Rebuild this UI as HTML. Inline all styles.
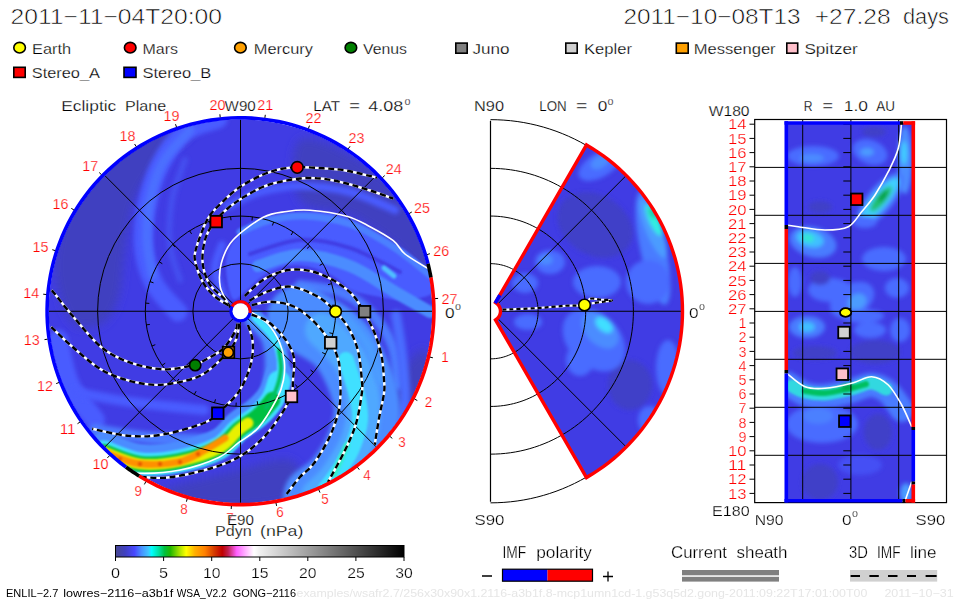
<!DOCTYPE html><html><head><meta charset="utf-8"><style>html,body{margin:0;padding:0;background:#fff;width:960px;height:600px;overflow:hidden}svg{display:block}</style></head><body>
<svg width="960" height="600" viewBox="0 0 960 600" font-family='"Liberation Sans", sans-serif'>
<defs>
<clipPath id="cE"><circle cx="240.5" cy="311.25" r="191.8"/></clipPath>
<clipPath id="cW"><path d="M586.50,144.97 L592.24,148.42 L597.87,152.07 L603.35,155.92 L608.71,159.95 L613.92,164.17 L618.97,168.57 L623.87,173.14 L628.61,177.88 L633.18,182.78 L637.58,187.83 L641.80,193.04 L645.83,198.40 L649.68,203.88 L653.33,209.51 L656.78,215.25 L660.03,221.11 L663.07,227.08 L665.90,233.16 L668.52,239.33 L670.92,245.58 L673.10,251.92 L675.06,258.33 L676.80,264.80 L678.30,271.33 L679.58,277.91 L680.63,284.53 L681.45,291.18 L682.03,297.86 L682.38,304.55 L682.50,311.25 L682.38,317.95 L682.03,324.64 L681.45,331.32 L680.63,337.97 L679.58,344.59 L678.30,351.17 L676.80,357.70 L675.06,364.17 L673.10,370.58 L670.92,376.92 L668.52,383.17 L665.90,389.34 L663.07,395.42 L660.03,401.39 L656.78,407.25 L653.33,412.99 L649.68,418.62 L645.83,424.10 L641.80,429.46 L637.58,434.67 L633.18,439.72 L628.61,444.62 L623.87,449.36 L618.97,453.93 L613.92,458.33 L608.71,462.55 L603.35,466.58 L597.87,470.43 L592.24,474.08 L586.50,477.53 L495.50,319.91 L497.19,318.68 L498.59,317.13 L499.64,315.32 L500.28,313.33 L500.50,311.25 L500.28,309.17 L499.64,307.18 L498.59,305.37 L497.19,303.82 L495.50,302.59Z"/></clipPath>
<clipPath id="cR"><rect x="786" y="123" width="127.5" height="378"/></clipPath>
<filter id="b3" filterUnits="userSpaceOnUse" x="0" y="0" width="960" height="600"><feGaussianBlur stdDeviation="2.2"/></filter>
<filter id="b2" filterUnits="userSpaceOnUse" x="0" y="0" width="960" height="600"><feGaussianBlur stdDeviation="1.3"/></filter>
<filter id="b5" filterUnits="userSpaceOnUse" x="0" y="0" width="960" height="600"><feGaussianBlur stdDeviation="5"/></filter>
<linearGradient id="cbar" x1="0" x2="1" y1="0" y2="0"><stop offset="0" stop-color="#484890"/><stop offset="0.033" stop-color="#4040c0"/><stop offset="0.066" stop-color="#4848ff"/><stop offset="0.09" stop-color="#4890ff"/><stop offset="0.115" stop-color="#40c8ff"/><stop offset="0.125" stop-color="#00ffff"/><stop offset="0.15" stop-color="#00e0a0"/><stop offset="0.17" stop-color="#00c040"/><stop offset="0.19" stop-color="#20b800"/><stop offset="0.22" stop-color="#a0e000"/><stop offset="0.245" stop-color="#ffff00"/><stop offset="0.275" stop-color="#ffb000"/><stop offset="0.31" stop-color="#ff8000"/><stop offset="0.34" stop-color="#d84000"/><stop offset="0.37" stop-color="#c00000"/><stop offset="0.39" stop-color="#c02050"/><stop offset="0.42" stop-color="#ff60ff"/><stop offset="0.45" stop-color="#ffb0ff"/><stop offset="0.48" stop-color="#ffffff"/><stop offset="0.5" stop-color="#f0f0f0"/><stop offset="1.0" stop-color="#000000"/></linearGradient>
</defs>
<text x="10.5" y="24" font-size="21.5" fill="#000" text-anchor="start" textLength="211.5" lengthAdjust="spacingAndGlyphs" stroke="#fff" stroke-width="0.6">2011−11−04T20:00</text>
<text x="623.4" y="24" font-size="21.5" fill="#000" text-anchor="start" textLength="177.2" lengthAdjust="spacingAndGlyphs" stroke="#fff" stroke-width="0.6">2011−10−08T13</text>
<text x="814.7" y="24" font-size="21.5" fill="#000" text-anchor="start" textLength="75.9" lengthAdjust="spacingAndGlyphs" stroke="#fff" stroke-width="0.6">+27.28</text>
<text x="903" y="24" font-size="21.5" fill="#000" text-anchor="start" textLength="46" lengthAdjust="spacingAndGlyphs" stroke="#fff" stroke-width="0.6">days</text>
<ellipse cx="19.6" cy="47.7" rx="5.8" ry="5.3" fill="#ffff00" stroke="#000" stroke-width="1.6"/>
<text x="32" y="54" font-size="15" fill="#000" text-anchor="start" textLength="39" lengthAdjust="spacingAndGlyphs" stroke="#fff" stroke-width="0.25">Earth</text>
<ellipse cx="130.2" cy="47.7" rx="5.8" ry="5.3" fill="#ff0000" stroke="#000" stroke-width="1.6"/>
<text x="142.5" y="54" font-size="15" fill="#000" text-anchor="start" textLength="35.5" lengthAdjust="spacingAndGlyphs" stroke="#fff" stroke-width="0.25">Mars</text>
<ellipse cx="240.4" cy="47.7" rx="5.8" ry="5.3" fill="#ffa000" stroke="#000" stroke-width="1.6"/>
<text x="253.75" y="54" font-size="15" fill="#000" text-anchor="start" textLength="59.25" lengthAdjust="spacingAndGlyphs" stroke="#fff" stroke-width="0.25">Mercury</text>
<ellipse cx="350.9" cy="47.7" rx="5.8" ry="5.3" fill="#008000" stroke="#000" stroke-width="1.6"/>
<text x="363" y="54" font-size="15" fill="#000" text-anchor="start" textLength="44" lengthAdjust="spacingAndGlyphs" stroke="#fff" stroke-width="0.25">Venus</text>
<rect x="455.8" y="43.099999999999994" width="11.4" height="10.100000000000003" fill="#808080" stroke="#000" stroke-width="1.6"/>
<text x="472.5" y="54" font-size="15" fill="#000" text-anchor="start" textLength="37" lengthAdjust="spacingAndGlyphs" stroke="#fff" stroke-width="0.25">Juno</text>
<rect x="565.8" y="43.099999999999994" width="11.4" height="10.100000000000003" fill="#d0d0d0" stroke="#000" stroke-width="1.6"/>
<text x="584" y="54" font-size="15" fill="#000" text-anchor="start" textLength="48" lengthAdjust="spacingAndGlyphs" stroke="#fff" stroke-width="0.25">Kepler</text>
<rect x="676.3" y="43.099999999999994" width="11.9" height="10.100000000000003" fill="#ffa000" stroke="#000" stroke-width="1.6"/>
<text x="693.75" y="54" font-size="15" fill="#000" text-anchor="start" textLength="81.85" lengthAdjust="spacingAndGlyphs" stroke="#fff" stroke-width="0.25">Messenger</text>
<rect x="786.8" y="43.099999999999994" width="10.9" height="10.100000000000003" fill="#ffc0cb" stroke="#000" stroke-width="1.6"/>
<text x="804.4" y="54" font-size="15" fill="#000" text-anchor="start" textLength="53.4" lengthAdjust="spacingAndGlyphs" stroke="#fff" stroke-width="0.25">Spitzer</text>
<rect x="13.8" y="67.3" width="11.4" height="10.100000000000003" fill="#ff0000" stroke="#000" stroke-width="1.6"/>
<text x="31.75" y="78" font-size="15" fill="#000" text-anchor="start" textLength="68.25" lengthAdjust="spacingAndGlyphs" stroke="#fff" stroke-width="0.25">Stereo_A</text>
<rect x="124.0" y="67.3" width="12.000000000000009" height="10.100000000000003" fill="#0000ff" stroke="#000" stroke-width="1.6"/>
<text x="142.5" y="78" font-size="15" fill="#000" text-anchor="start" textLength="68.75" lengthAdjust="spacingAndGlyphs" stroke="#fff" stroke-width="0.25">Stereo_B</text>
<text x="61.25" y="110.5" font-size="15" fill="#000" text-anchor="start" textLength="55.0" lengthAdjust="spacingAndGlyphs" stroke="#fff" stroke-width="0.25">Ecliptic</text>
<text x="125" y="110.5" font-size="15" fill="#000" text-anchor="start" textLength="41.25" lengthAdjust="spacingAndGlyphs" stroke="#fff" stroke-width="0.25">Plane</text>
<text x="313.3" y="110.7" font-size="15" fill="#000" text-anchor="start" textLength="26.7" lengthAdjust="spacingAndGlyphs" stroke="#fff" stroke-width="0.25">LAT</text>
<text x="349.3" y="110.7" font-size="15" fill="#000" text-anchor="start" textLength="10.7" lengthAdjust="spacingAndGlyphs" stroke="#fff" stroke-width="0.25">=</text>
<text x="368.3" y="110.7" font-size="15" fill="#000" text-anchor="start" textLength="35.0" lengthAdjust="spacingAndGlyphs" stroke="#fff" stroke-width="0.25">4.08</text>
<text x="404.5" y="104.5" font-size="10" fill="#000" text-anchor="start" textLength="6" lengthAdjust="spacingAndGlyphs" stroke="#fff" stroke-width="0.25">o</text>
<text x="474" y="110.7" font-size="15" fill="#000" text-anchor="start" textLength="30" lengthAdjust="spacingAndGlyphs" stroke="#fff" stroke-width="0.25">N90</text>
<text x="539.3" y="110.7" font-size="15" fill="#000" text-anchor="start" textLength="27.4" lengthAdjust="spacingAndGlyphs" stroke="#fff" stroke-width="0.25">LON</text>
<text x="576" y="110.7" font-size="15" fill="#000" text-anchor="start" textLength="11.3" lengthAdjust="spacingAndGlyphs" stroke="#fff" stroke-width="0.25">=</text>
<text x="597.7" y="110.7" font-size="15" fill="#000" text-anchor="start" textLength="9.6" lengthAdjust="spacingAndGlyphs" stroke="#fff" stroke-width="0.25">0</text>
<text x="607.5" y="104.5" font-size="10" fill="#000" text-anchor="start" textLength="6" lengthAdjust="spacingAndGlyphs" stroke="#fff" stroke-width="0.25">o</text>
<text x="708.75" y="116.3" font-size="15" fill="#000" text-anchor="start" textLength="40.75" lengthAdjust="spacingAndGlyphs" stroke="#fff" stroke-width="0.25">W180</text>
<text x="803.75" y="110.5" font-size="15" fill="#000" text-anchor="start" textLength="8.75" lengthAdjust="spacingAndGlyphs" stroke="#fff" stroke-width="0.25">R</text>
<text x="822.5" y="110.5" font-size="15" fill="#000" text-anchor="start" textLength="10.5" lengthAdjust="spacingAndGlyphs" stroke="#fff" stroke-width="0.25">=</text>
<text x="843.75" y="110.5" font-size="15" fill="#000" text-anchor="start" textLength="24.25" lengthAdjust="spacingAndGlyphs" stroke="#fff" stroke-width="0.25">1.0</text>
<text x="876.25" y="110.5" font-size="15" fill="#000" text-anchor="start" textLength="18.75" lengthAdjust="spacingAndGlyphs" stroke="#fff" stroke-width="0.25">AU</text>
<g clip-path="url(#cE)">
<circle cx="240.5" cy="311.25" r="192" fill="#403ce4"/>
<g filter="url(#b5)" fill="#4040c0">
<path d="M55.0,260.0 C56.7,237.5 67.5,205.8 80.0,185.0 C92.5,164.2 110.0,146.8 130.0,135.0 C150.0,123.2 190.0,114.0 200.0,114.0 C210.0,114.0 196.7,127.3 190.0,135.0 C183.3,142.7 169.2,149.2 160.0,160.0 C150.8,170.8 140.8,185.0 135.0,200.0 C129.2,215.0 127.8,233.3 125.0,250.0 C122.2,266.7 122.2,287.5 118.0,300.0 C113.8,312.5 108.0,321.7 100.0,325.0 C92.0,328.3 77.5,330.8 70.0,320.0 C62.5,309.2 53.3,282.5 55.0,260.0Z"/>
<path d="M300.0,140.0 C310.0,133.3 342.5,150.0 360.0,160.0 C377.5,170.0 393.3,185.0 405.0,200.0 C416.7,215.0 426.7,237.5 430.0,250.0 C433.3,262.5 430.8,275.8 425.0,275.0 C419.2,274.2 407.5,255.0 395.0,245.0 C382.5,235.0 365.8,222.5 350.0,215.0 C334.2,207.5 308.3,212.5 300.0,200.0 C291.7,187.5 290.0,146.7 300.0,140.0Z"/>
<path d="M160.0,490.0 C170.0,485.3 208.3,477.0 230.0,472.0 C251.7,467.0 278.3,456.2 290.0,460.0 C301.7,463.8 308.3,487.2 300.0,495.0 C291.7,502.8 261.7,506.2 240.0,507.0 C218.3,507.8 183.3,502.8 170.0,500.0 C156.7,497.2 150.0,494.7 160.0,490.0Z"/>
<path d="M400.0,380.0 C405.0,363.3 419.7,346.7 425.0,350.0 C430.3,353.3 433.7,385.0 432.0,400.0 C430.3,415.0 421.2,431.7 415.0,440.0 C408.8,448.3 397.5,460.0 395.0,450.0 C392.5,440.0 395.0,396.7 400.0,380.0Z"/>
</g>
<path d="M218.0,119.0 C212.5,121.2 194.7,124.3 185.0,132.0 C175.3,139.7 166.5,152.0 160.0,165.0 C153.5,178.0 148.7,195.8 146.0,210.0 C143.3,224.2 142.5,237.5 144.0,250.0 C145.5,262.5 149.3,274.7 155.0,285.0 C160.7,295.3 174.2,307.5 178.0,312.0" stroke="#4a5cff" stroke-width="19" fill="none" stroke-linecap="round" filter="url(#b3)" opacity="1"/>
<path d="M190.0,130.0 C185.5,135.3 169.7,150.3 163.0,162.0 C156.3,173.7 152.7,187.0 150.0,200.0 C147.3,213.0 146.7,227.5 147.0,240.0 C147.3,252.5 151.2,269.2 152.0,275.0" stroke="#4c70ff" stroke-width="9" fill="none" stroke-linecap="round" filter="url(#b3)" opacity="1"/>
<path d="M185.0,160.0 C182.8,166.7 174.5,185.8 172.0,200.0 C169.5,214.2 168.7,231.7 170.0,245.0 C171.3,258.3 178.3,274.2 180.0,280.0" stroke="#4450f0" stroke-width="6" fill="none" stroke-linecap="round" filter="url(#b3)" opacity="1"/>
<path d="M225.0,300.0 C223.3,295.0 215.5,279.2 215.0,270.0 C214.5,260.8 220.8,249.2 222.0,245.0" stroke="#4a5cff" stroke-width="8" fill="none" stroke-linecap="round" filter="url(#b3)" opacity="1"/>
<path d="M228.0,206.0 C233.3,203.7 248.0,195.3 260.0,192.0 C272.0,188.7 285.0,186.0 300.0,186.0 C315.0,186.0 334.2,188.0 350.0,192.0 C365.8,196.0 387.5,207.0 395.0,210.0" stroke="#4a5cff" stroke-width="8" fill="none" stroke-linecap="round" filter="url(#b3)" opacity="1"/>
<path d="M58.0,340.0 C60.0,347.5 63.8,371.7 70.0,385.0 C76.2,398.3 90.8,414.2 95.0,420.0" stroke="#4a5cff" stroke-width="20" fill="none" stroke-linecap="round" filter="url(#b3)" opacity="1"/>
<path d="M75.0,392.0 C84.2,393.7 108.5,399.0 130.0,402.0 C151.5,405.0 191.7,408.7 204.0,410.0" stroke="#4a5cff" stroke-width="10" fill="none" stroke-linecap="round" filter="url(#b3)" opacity="1"/>
<path d="M95.0,430.0 C104.2,431.3 131.8,436.3 150.0,438.0 C168.2,439.7 195.0,439.7 204.0,440.0" stroke="#4c7cff" stroke-width="12" fill="none" stroke-linecap="round" filter="url(#b3)" opacity="1"/>
<path d="M226.0,262.0 C226.7,252.0 229.8,245.2 236.0,238.0 C242.2,230.8 250.7,223.3 263.0,219.0 C275.3,214.7 296.0,212.2 310.0,212.0 C324.0,211.8 333.2,212.8 347.0,218.0 C360.8,223.2 379.7,234.3 393.0,243.0 C406.3,251.7 420.2,261.8 427.0,270.0 C433.8,278.2 437.7,287.0 434.0,292.0 C430.3,297.0 414.8,299.3 405.0,300.0 C395.2,300.7 383.8,297.7 375.0,296.0 C366.2,294.3 359.0,293.3 352.0,290.0 C345.0,286.7 340.0,279.8 333.0,276.0 C326.0,272.2 317.7,268.7 310.0,267.0 C302.3,265.3 294.8,264.5 287.0,266.0 C279.2,267.5 270.0,271.7 263.0,276.0 C256.0,280.3 250.2,288.3 245.0,292.0 C239.8,295.7 235.2,303.0 232.0,298.0 C228.8,293.0 225.3,272.0 226.0,262.0Z" fill="#4a5cff" filter="url(#b2)"/>
<path d="M240.0,232.0 C245.0,230.0 259.2,222.7 270.0,220.0 C280.8,217.3 291.7,215.3 305.0,216.0 C318.3,216.7 335.0,218.7 350.0,224.0 C365.0,229.3 381.7,239.5 395.0,248.0 C408.3,256.5 424.2,270.5 430.0,275.0" stroke="#4c80ff" stroke-width="7" fill="none" stroke-linecap="round" filter="url(#b2)" opacity="1"/>
<path d="M258.0,266.0 C265.0,264.2 284.7,255.0 300.0,255.0 C315.3,255.0 334.2,259.8 350.0,266.0 C365.8,272.2 381.7,284.3 395.0,292.0 C408.3,299.7 424.2,308.7 430.0,312.0" stroke="#4c8cff" stroke-width="12" fill="none" stroke-linecap="round" filter="url(#b2)" opacity="1"/>
<path d="M250.0,254.0 C258.3,251.7 283.3,241.0 300.0,240.0 C316.7,239.0 333.3,242.7 350.0,248.0 C366.7,253.3 391.7,268.0 400.0,272.0" stroke="#403ce4" stroke-width="4" fill="none" stroke-linecap="round" filter="url(#b2)" opacity="1"/>
<path d="M384.0,268.0 L394.0,276.0" stroke="#50c0ff" stroke-width="5" fill="none" stroke-linecap="round" filter="url(#b2)" opacity="1"/>
<path d="M300.0,285.0 C306.7,286.2 328.3,287.5 340.0,292.0 C351.7,296.5 361.3,303.2 370.0,312.0 C378.7,320.8 387.3,332.8 392.0,345.0 C396.7,357.2 397.0,378.3 398.0,385.0" stroke="#4c7cff" stroke-width="10" fill="none" stroke-linecap="round" filter="url(#b3)" opacity="1"/>
<path d="M396.0,315.0 C397.0,321.7 400.5,340.8 402.0,355.0 C403.5,369.2 405.7,387.5 405.0,400.0 C404.3,412.5 399.2,425.0 398.0,430.0" stroke="#4a6cff" stroke-width="10" fill="none" stroke-linecap="round" filter="url(#b3)" opacity="1"/>
<path d="M300.0,318.0 C307.0,322.7 331.0,332.3 342.0,346.0 C353.0,359.7 363.0,384.0 366.0,400.0 C369.0,416.0 364.7,428.7 360.0,442.0 C355.3,455.3 345.3,470.7 338.0,480.0 C330.7,489.3 319.7,495.0 316.0,498.0" stroke="#4c8cff" stroke-width="66" fill="none" stroke-linecap="round" filter="url(#b3)" opacity="1"/>
<path d="M322.0,330.0 C326.7,335.0 343.2,348.3 350.0,360.0 C356.8,371.7 361.7,386.7 363.0,400.0 C364.3,413.3 362.5,427.0 358.0,440.0 C353.5,453.0 342.7,468.7 336.0,478.0 C329.3,487.3 321.0,493.0 318.0,496.0" stroke="#50a8ff" stroke-width="34" fill="none" stroke-linecap="round" filter="url(#b3)" opacity="1"/>
<path d="M346.0,360.0 C347.8,365.8 354.7,385.0 357.0,395.0 C359.3,405.0 360.8,411.2 360.0,420.0 C359.2,428.8 355.7,439.3 352.0,448.0 C348.3,456.7 342.5,465.0 338.0,472.0 C333.5,479.0 327.2,487.0 325.0,490.0" stroke="#40e0ff" stroke-width="16" fill="none" stroke-linecap="round" filter="url(#b2)" opacity="1"/>
<path d="M347.0,445.0 L334.0,474.0" stroke="#30f0c8" stroke-width="6" fill="none" stroke-linecap="round" filter="url(#b2)" opacity="1"/>
<path d="M345.0,318.0 C348.8,322.5 362.2,334.7 368.0,345.0 C373.8,355.3 378.0,374.2 380.0,380.0" stroke="#4c9cff" stroke-width="10" fill="none" stroke-linecap="round" filter="url(#b3)" opacity="1"/>
<path d="M252.0,320.0 C254.7,323.0 264.7,330.5 268.0,338.0 C271.3,345.5 272.0,355.5 272.0,365.0 C272.0,374.5 268.7,390.0 268.0,395.0" stroke="#4c8cff" stroke-width="14" fill="none" stroke-linecap="round" filter="url(#b3)" opacity="1"/>
<path d="M104.0,446.0 C109.9,448.0 127.1,456.3 139.6,457.9 C152.1,459.4 165.8,457.9 179.0,455.3 C192.2,452.7 208.9,447.7 218.8,442.5 C228.7,437.3 232.0,429.4 238.6,424.0 C245.2,418.6 252.8,415.0 258.4,410.0 C264.0,405.0 268.9,399.7 272.3,394.0 C275.7,388.3 277.9,379.0 279.0,376.0" stroke="#4c8cff" stroke-width="28" fill="none" stroke-linecap="round" filter="url(#b2)" opacity="1"/>
<path d="M266.0,408.0 C267.7,405.0 273.5,396.3 276.0,390.0 C278.5,383.7 280.5,376.7 281.0,370.0 C281.5,363.3 280.8,356.2 279.0,350.0 C277.2,343.8 273.8,338.3 270.0,333.0 C266.2,327.7 258.3,320.5 256.0,318.0" stroke="#4c8cff" stroke-width="16" fill="none" stroke-linecap="round" filter="url(#b2)" opacity="1"/>
<path d="M104.0,452.0 C109.9,454.0 127.1,462.3 139.6,463.9 C152.1,465.4 165.8,463.9 179.0,461.3 C192.2,458.7 208.9,453.7 218.8,448.5 C228.7,443.3 232.0,435.4 238.6,430.0 C245.2,424.6 252.8,421.0 258.4,416.0 C264.0,411.0 268.9,405.7 272.3,400.0 C275.7,394.3 277.9,385.0 279.0,382.0" stroke="#40e0ff" stroke-width="23" fill="none" stroke-linecap="round" filter="url(#b2)" opacity="1"/>
<path d="M266.0,408.0 C267.7,405.0 273.5,396.3 276.0,390.0 C278.5,383.7 280.5,376.7 281.0,370.0 C281.5,363.3 280.8,356.2 279.0,350.0 C277.2,343.8 273.8,338.3 270.0,333.0 C266.2,327.7 258.3,320.5 256.0,318.0" stroke="#40e0ff" stroke-width="8" fill="none" stroke-linecap="round" filter="url(#b2)" opacity="1"/>
<path d="M104.0,452.0 C109.9,454.0 127.1,462.3 139.6,463.9 C152.1,465.4 165.8,463.9 179.0,461.3 C192.2,458.7 208.9,453.7 218.8,448.5 C228.7,443.3 232.0,435.4 238.6,430.0 C245.2,424.6 252.8,421.0 258.4,416.0 C264.0,411.0 270.0,402.7 272.3,400.0" stroke="#00c040" stroke-width="16" fill="none" stroke-linecap="round" filter="url(#b2)" opacity="1"/>
<path d="M266.0,408.0 C267.7,405.0 273.5,396.3 276.0,390.0 C278.5,383.7 280.5,376.7 281.0,370.0 C281.5,363.3 279.3,353.3 279.0,350.0" stroke="#00c060" stroke-width="4" fill="none" stroke-linecap="round" filter="url(#b2)" opacity="1"/>
<path d="M104.0,452.0 C109.9,454.0 127.1,462.3 139.6,463.9 C152.1,465.4 165.8,463.9 179.0,461.3 C192.2,458.7 208.9,453.7 218.8,448.5 C228.7,443.3 233.7,434.2 238.6,430.0 C243.5,425.8 246.4,424.2 248.0,423.0" stroke="#e8f000" stroke-width="11" fill="none" stroke-linecap="round" filter="url(#b2)" opacity="1"/>
<path d="M106.0,453.0 C111.6,454.8 127.4,462.3 139.6,463.8 C151.8,465.3 168.1,464.1 179.0,461.8 C189.9,459.5 197.3,454.0 205.0,450.0 C212.7,446.0 221.7,440.0 225.0,438.0" stroke="#ff9000" stroke-width="7" fill="none" stroke-linecap="round" filter="url(#b2)" opacity="1"/>
<circle cx="120" cy="459" r="2" fill="#e05000" filter="url(#b2)"/>
<circle cx="140" cy="464" r="2" fill="#e05000" filter="url(#b2)"/>
<circle cx="160" cy="464" r="2" fill="#e05000" filter="url(#b2)"/>
<circle cx="180" cy="462" r="2" fill="#e05000" filter="url(#b2)"/>
<circle cx="198" cy="454" r="2" fill="#e05000" filter="url(#b2)"/>
</g>
<circle cx="240.5" cy="311.25" r="47.6" fill="none" stroke="#000" stroke-width="1"/><circle cx="240.5" cy="311.25" r="95.2" fill="none" stroke="#000" stroke-width="1"/><circle cx="240.5" cy="311.25" r="142.9" fill="none" stroke="#000" stroke-width="1"/><line x1="49.00" y1="311.25" x2="432.00" y2="311.25" stroke="#000" stroke-width="1"/><line x1="105.09" y1="446.66" x2="375.91" y2="175.84" stroke="#000" stroke-width="1"/><line x1="240.50" y1="502.75" x2="240.50" y2="119.75" stroke="#000" stroke-width="1"/><line x1="375.91" y1="446.66" x2="105.09" y2="175.84" stroke="#000" stroke-width="1"/>
<path d="M333.0,333.6L329.4,332.8M325.5,354.1L322.2,352.5M313.5,372.4L310.6,370.0M297.6,387.4L295.4,384.5M278.7,398.4L277.2,395.0M257.8,404.9L257.2,401.2M236.0,406.3L236.2,402.6M214.5,402.8L215.5,399.3M194.3,394.5L196.1,391.2M176.5,381.8L179.0,379.0M162.1,365.3L165.2,363.2M151.9,346.0L155.3,344.7M146.3,324.9L149.9,324.4M145.7,303.1L149.3,303.4M150.0,281.6L153.5,282.8M159.2,261.8L162.3,263.7M172.6,244.5L175.2,247.1M189.6,230.8L191.6,233.9M209.3,221.3L210.5,224.8M230.6,216.6L231.0,220.2M252.4,216.8L252.0,220.5M273.7,222.0L272.4,225.5M293.1,231.9L291.1,235.0M309.8,246.0L307.1,248.5M322.9,263.5L319.7,265.4M331.6,283.6L328.0,284.7M335.5,305.1L331.8,305.3" stroke="#000" stroke-width="1"/>
<path d="M228.0,303.0 C226.7,300.3 221.3,293.3 220.2,286.7 C219.1,280.1 219.2,271.1 221.3,263.3 C223.4,255.5 226.0,247.7 233.0,240.0 C240.0,232.3 254.4,222.1 263.3,217.3 C272.2,212.6 278.9,212.7 286.7,211.5 C294.5,210.3 300.0,209.5 310.0,210.3 C320.0,211.1 336.7,213.5 346.7,216.2 C356.7,218.9 362.2,222.6 370.0,226.7 C377.8,230.8 387.5,236.1 393.3,240.7 C399.1,245.2 399.4,249.4 405.0,254.0 C410.6,258.6 422.7,265.3 427.2,268.0 C431.7,270.7 431.2,269.7 432.0,270.0" stroke="#fff" stroke-width="1.6" fill="none"/>
<path d="M251.7,312.3 C254.4,314.2 263.3,318.9 268.0,324.0 C272.7,329.1 277.0,336.5 279.7,342.7 C282.4,348.9 283.7,355.1 284.3,361.3 C284.9,367.5 284.7,373.9 283.5,380.0 C282.3,386.1 281.5,390.1 277.3,398.0 C273.1,405.9 264.8,420.3 258.4,427.7 C251.9,435.1 245.2,437.7 238.6,442.6 C232.0,447.6 228.7,452.8 218.8,457.4 C208.9,462.0 192.2,467.6 179.0,470.3 C165.8,473.0 149.4,473.5 139.6,473.3 C129.8,473.1 123.3,469.7 120.0,469.0" stroke="#fff" stroke-width="1.6" fill="none"/>
<path d="M230.7,307.7 C229.5,306.1 227.2,302.2 223.7,298.3 C220.2,294.4 213.2,290.1 209.7,284.3 C206.2,278.5 203.5,270.7 202.7,263.3 C201.9,255.9 203.1,246.9 205.0,240.0 C206.9,233.1 210.4,227.3 214.3,222.0 C218.2,216.7 223.2,212.2 228.3,208.0 C233.4,203.8 238.1,200.3 244.7,196.5 C251.3,192.7 258.8,188.0 268.0,185.0 C277.2,182.0 290.8,179.5 300.0,178.5 C309.2,177.5 315.5,178.0 323.3,178.8 C331.1,179.6 338.9,181.6 346.7,183.5 C354.5,185.4 362.2,188.0 370.0,190.5 C377.8,193.0 389.4,197.3 393.3,198.7" stroke="#fff" stroke-width="2.4" fill="none"/>
<path d="M230.7,307.7 C229.5,306.1 227.2,302.2 223.7,298.3 C220.2,294.4 213.2,290.1 209.7,284.3 C206.2,278.5 203.5,270.7 202.7,263.3 C201.9,255.9 203.1,246.9 205.0,240.0 C206.9,233.1 210.4,227.3 214.3,222.0 C218.2,216.7 223.2,212.2 228.3,208.0 C233.4,203.8 238.1,200.3 244.7,196.5 C251.3,192.7 258.8,188.0 268.0,185.0 C277.2,182.0 290.8,179.5 300.0,178.5 C309.2,177.5 315.5,178.0 323.3,178.8 C331.1,179.6 338.9,181.6 346.7,183.5 C354.5,185.4 362.2,188.0 370.0,190.5 C377.8,193.0 389.4,197.3 393.3,198.7" stroke="#000" stroke-width="2.4" fill="none" stroke-dasharray="6 3.6"/>
<path d="M228.3,305.3 C226.0,303.8 218.6,299.9 214.3,296.0 C210.0,292.1 205.8,287.4 202.7,282.0 C199.6,276.6 196.9,268.6 195.7,263.3 C194.5,258.0 193.8,257.3 195.7,250.0 C197.6,242.7 203.0,227.5 207.3,219.7 C211.6,211.9 215.9,208.4 221.3,203.0 C226.8,197.6 233.0,191.8 240.0,187.0 C247.0,182.2 256.3,177.5 263.3,174.5 C270.3,171.5 275.9,170.0 282.0,168.8 C288.1,167.6 293.1,167.3 300.0,167.2 C306.9,167.1 315.5,167.7 323.3,168.3 C331.1,168.9 337.8,169.1 346.7,170.7 C355.6,172.3 371.9,176.5 377.0,177.7" stroke="#fff" stroke-width="2.4" fill="none"/>
<path d="M228.3,305.3 C226.0,303.8 218.6,299.9 214.3,296.0 C210.0,292.1 205.8,287.4 202.7,282.0 C199.6,276.6 196.9,268.6 195.7,263.3 C194.5,258.0 193.8,257.3 195.7,250.0 C197.6,242.7 203.0,227.5 207.3,219.7 C211.6,211.9 215.9,208.4 221.3,203.0 C226.8,197.6 233.0,191.8 240.0,187.0 C247.0,182.2 256.3,177.5 263.3,174.5 C270.3,171.5 275.9,170.0 282.0,168.8 C288.1,167.6 293.1,167.3 300.0,167.2 C306.9,167.1 315.5,167.7 323.3,168.3 C331.1,168.9 337.8,169.1 346.7,170.7 C355.6,172.3 371.9,176.5 377.0,177.7" stroke="#000" stroke-width="2.4" fill="none" stroke-dasharray="6 3.6"/>
<path d="M244.7,296.0 C247.8,293.3 256.3,284.0 263.3,279.7 C270.3,275.4 278.9,271.8 286.7,270.3 C294.5,268.9 302.2,269.3 310.0,271.0 C317.8,272.7 326.3,276.4 333.3,280.3 C340.3,284.2 346.9,289.0 352.0,294.3 C357.1,299.6 360.4,305.8 364.2,312.3 C368.0,318.8 371.8,325.9 374.7,333.3 C377.6,340.7 380.1,348.9 381.7,356.7 C383.2,364.5 383.6,373.9 384.0,380.0 C384.4,386.1 384.8,387.2 384.0,393.3 C383.2,399.4 380.9,408.1 379.3,416.7 C377.8,425.3 375.5,440.0 374.7,444.7" stroke="#fff" stroke-width="2.4" fill="none"/>
<path d="M244.7,296.0 C247.8,293.3 256.3,284.0 263.3,279.7 C270.3,275.4 278.9,271.8 286.7,270.3 C294.5,268.9 302.2,269.3 310.0,271.0 C317.8,272.7 326.3,276.4 333.3,280.3 C340.3,284.2 346.9,289.0 352.0,294.3 C357.1,299.6 360.4,305.8 364.2,312.3 C368.0,318.8 371.8,325.9 374.7,333.3 C377.6,340.7 380.1,348.9 381.7,356.7 C383.2,364.5 383.6,373.9 384.0,380.0 C384.4,386.1 384.8,387.2 384.0,393.3 C383.2,399.4 380.9,408.1 379.3,416.7 C377.8,425.3 375.5,440.0 374.7,444.7" stroke="#000" stroke-width="2.4" fill="none" stroke-dasharray="6 3.6"/>
<path d="M249.3,300.7 C252.4,299.1 261.0,293.6 268.0,291.3 C275.0,289.0 282.9,285.7 291.3,286.7 C299.8,287.7 311.3,293.0 318.7,297.2 C326.1,301.4 330.6,306.6 335.7,311.9 C340.8,317.1 345.2,322.0 349.0,328.7 C352.8,335.4 356.2,343.4 358.3,352.0 C360.4,360.6 361.2,373.1 361.8,380.0 C362.4,386.9 362.8,386.0 361.8,393.3 C360.8,400.6 358.9,414.0 356.0,423.7 C353.1,433.4 349.0,442.0 344.3,451.7 C339.6,461.4 330.7,476.9 328.0,482.0" stroke="#fff" stroke-width="2.4" fill="none"/>
<path d="M249.3,300.7 C252.4,299.1 261.0,293.6 268.0,291.3 C275.0,289.0 282.9,285.7 291.3,286.7 C299.8,287.7 311.3,293.0 318.7,297.2 C326.1,301.4 330.6,306.6 335.7,311.9 C340.8,317.1 345.2,322.0 349.0,328.7 C352.8,335.4 356.2,343.4 358.3,352.0 C360.4,360.6 361.2,373.1 361.8,380.0 C362.4,386.9 362.8,386.0 361.8,393.3 C360.8,400.6 358.9,414.0 356.0,423.7 C353.1,433.4 349.0,442.0 344.3,451.7 C339.6,461.4 330.7,476.9 328.0,482.0" stroke="#000" stroke-width="2.4" fill="none" stroke-dasharray="6 3.6"/>
<path d="M251.7,305.3 C254.8,304.7 263.3,301.6 270.3,301.8 C277.3,302.0 286.4,303.2 293.7,306.5 C301.0,309.8 307.8,315.7 314.0,321.7 C320.2,327.7 326.9,336.9 330.8,342.7 C334.7,348.5 335.8,352.1 337.3,356.7 C338.8,361.2 339.3,361.9 339.7,370.0 C340.1,378.1 341.3,394.1 339.7,405.0 C338.1,415.9 334.6,425.6 330.3,435.3 C326.0,445.0 319.1,456.4 314.0,463.3 C308.9,470.2 304.6,471.9 300.0,477.0 C295.4,482.1 288.9,491.2 286.7,494.0" stroke="#fff" stroke-width="2.4" fill="none"/>
<path d="M251.7,305.3 C254.8,304.7 263.3,301.6 270.3,301.8 C277.3,302.0 286.4,303.2 293.7,306.5 C301.0,309.8 307.8,315.7 314.0,321.7 C320.2,327.7 326.9,336.9 330.8,342.7 C334.7,348.5 335.8,352.1 337.3,356.7 C338.8,361.2 339.3,361.9 339.7,370.0 C340.1,378.1 341.3,394.1 339.7,405.0 C338.1,415.9 334.6,425.6 330.3,435.3 C326.0,445.0 319.1,456.4 314.0,463.3 C308.9,470.2 304.6,471.9 300.0,477.0 C295.4,482.1 288.9,491.2 286.7,494.0" stroke="#000" stroke-width="2.4" fill="none" stroke-dasharray="6 3.6"/>
<path d="M251.7,314.7 C254.4,315.9 262.6,317.8 268.0,321.7 C273.4,325.6 280.0,332.2 284.3,338.0 C288.6,343.8 292.2,349.7 293.7,356.7 C295.1,363.7 293.4,373.5 293.0,380.0 C292.6,386.5 293.5,389.6 291.3,395.7 C289.1,401.8 284.4,409.7 279.7,416.7 C275.0,423.7 269.9,431.1 263.3,437.7 C256.7,444.3 248.6,451.2 240.0,456.3 C231.4,461.4 223.7,464.5 212.0,468.0 C200.3,471.5 182.0,475.8 170.0,477.3 C158.0,478.8 145.0,477.1 140.0,477.0" stroke="#fff" stroke-width="2.4" fill="none"/>
<path d="M251.7,314.7 C254.4,315.9 262.6,317.8 268.0,321.7 C273.4,325.6 280.0,332.2 284.3,338.0 C288.6,343.8 292.2,349.7 293.7,356.7 C295.1,363.7 293.4,373.5 293.0,380.0 C292.6,386.5 293.5,389.6 291.3,395.7 C289.1,401.8 284.4,409.7 279.7,416.7 C275.0,423.7 269.9,431.1 263.3,437.7 C256.7,444.3 248.6,451.2 240.0,456.3 C231.4,461.4 223.7,464.5 212.0,468.0 C200.3,471.5 182.0,475.8 170.0,477.3 C158.0,478.8 145.0,477.1 140.0,477.0" stroke="#000" stroke-width="2.4" fill="none" stroke-dasharray="6 3.6"/>
<path d="M248.0,325.0 C248.8,327.5 251.8,335.0 252.5,340.0 C253.2,345.0 253.2,349.5 252.5,355.0 C251.8,360.5 250.5,366.6 248.0,373.0 C245.5,379.4 242.7,386.6 237.7,393.3 C232.7,400.0 223.4,408.2 217.8,413.2 C212.2,418.1 213.1,419.4 204.0,423.0 C194.9,426.6 175.5,432.4 163.0,434.5 C150.5,436.6 140.8,436.8 129.0,435.9 C117.2,434.9 98.3,430.0 92.2,428.8" stroke="#fff" stroke-width="2.4" fill="none"/>
<path d="M248.0,325.0 C248.8,327.5 251.8,335.0 252.5,340.0 C253.2,345.0 253.2,349.5 252.5,355.0 C251.8,360.5 250.5,366.6 248.0,373.0 C245.5,379.4 242.7,386.6 237.7,393.3 C232.7,400.0 223.4,408.2 217.8,413.2 C212.2,418.1 213.1,419.4 204.0,423.0 C194.9,426.6 175.5,432.4 163.0,434.5 C150.5,436.6 140.8,436.8 129.0,435.9 C117.2,434.9 98.3,430.0 92.2,428.8" stroke="#000" stroke-width="2.4" fill="none" stroke-dasharray="6 3.6"/>
<path d="M237.5,323.5 C237.2,324.5 237.2,326.8 236.0,329.5 C234.8,332.2 232.5,336.5 230.0,340.0 C227.5,343.5 225.2,347.1 221.0,350.5 C216.8,353.9 209.0,357.8 204.5,360.2 C200.0,362.6 201.0,363.5 194.1,365.0 C187.2,366.5 173.8,369.8 163.0,369.3 C152.2,368.8 139.4,366.0 129.0,362.2 C118.6,358.4 110.2,354.5 100.7,346.7 C91.2,338.9 80.5,324.9 72.3,315.5 C64.1,306.1 55.1,294.2 51.7,290.0" stroke="#fff" stroke-width="2.4" fill="none"/>
<path d="M237.5,323.5 C237.2,324.5 237.2,326.8 236.0,329.5 C234.8,332.2 232.5,336.5 230.0,340.0 C227.5,343.5 225.2,347.1 221.0,350.5 C216.8,353.9 209.0,357.8 204.5,360.2 C200.0,362.6 201.0,363.5 194.1,365.0 C187.2,366.5 173.8,369.8 163.0,369.3 C152.2,368.8 139.4,366.0 129.0,362.2 C118.6,358.4 110.2,354.5 100.7,346.7 C91.2,338.9 80.5,324.9 72.3,315.5 C64.1,306.1 55.1,294.2 51.7,290.0" stroke="#000" stroke-width="2.4" fill="none" stroke-dasharray="6 3.6"/>
<path d="M239.0,323.5 C238.9,324.8 238.9,327.8 238.2,331.0 C237.4,334.2 236.9,338.8 234.5,343.0 C232.1,347.2 229.1,351.4 224.0,356.5 C218.9,361.6 210.4,369.6 204.0,373.6 C197.6,377.6 193.4,378.8 185.6,380.7 C177.8,382.6 166.7,384.9 157.3,384.9 C147.9,384.9 138.4,383.3 129.0,380.7 C119.6,378.1 110.2,375.0 100.7,369.3 C91.2,363.6 80.6,353.8 72.3,346.7 C64.0,339.6 54.5,330.1 51.0,326.8" stroke="#fff" stroke-width="2.4" fill="none"/>
<path d="M239.0,323.5 C238.9,324.8 238.9,327.8 238.2,331.0 C237.4,334.2 236.9,338.8 234.5,343.0 C232.1,347.2 229.1,351.4 224.0,356.5 C218.9,361.6 210.4,369.6 204.0,373.6 C197.6,377.6 193.4,378.8 185.6,380.7 C177.8,382.6 166.7,384.9 157.3,384.9 C147.9,384.9 138.4,383.3 129.0,380.7 C119.6,378.1 110.2,375.0 100.7,369.3 C91.2,363.6 80.6,353.8 72.3,346.7 C64.0,339.6 54.5,330.1 51.0,326.8" stroke="#000" stroke-width="2.4" fill="none" stroke-dasharray="6 3.6"/>
<circle cx="240.5" cy="311.25" r="9.5" fill="none" stroke="#0000ff" stroke-width="3.2"/>
<path d="M232.27,306.50 L232.44,306.22 L232.62,305.94 L232.81,305.67 L233.01,305.40 L233.22,305.14 L233.44,304.89 L233.67,304.65 L233.90,304.42 L234.14,304.19 L234.39,303.97 L234.65,303.76 L234.92,303.56 L235.19,303.37 L235.47,303.19 L235.75,303.02 L236.04,302.86 L236.34,302.71 L236.64,302.57 L236.94,302.44 L237.25,302.32 L237.56,302.21 L237.88,302.12 L238.20,302.03 L238.52,301.96 L238.85,301.89 L239.18,301.84 L239.51,301.80 L239.84,301.77 L240.17,301.76 L240.50,301.75 L240.83,301.76 L241.16,301.77 L241.49,301.80 L241.82,301.84 L242.15,301.89 L242.48,301.96 L242.80,302.03 L243.12,302.12 L243.44,302.21 L243.75,302.32 L244.06,302.44 L244.36,302.57 L244.66,302.71 L244.96,302.86 L245.25,303.02 L245.53,303.19 L245.81,303.37 L246.08,303.56 L246.35,303.76 L246.61,303.97 L246.86,304.19 L247.10,304.42 L247.33,304.65 L247.56,304.89 L247.78,305.14 L247.99,305.40 L248.19,305.67 L248.38,305.94 L248.56,306.22 L248.73,306.50 L248.89,306.79 L249.04,307.09 L249.18,307.39 L249.31,307.69 L249.43,308.00 L249.54,308.31 L249.63,308.63 L249.72,308.95 L249.79,309.27 L249.86,309.60 L249.91,309.93 L249.95,310.26 L249.98,310.59 L249.99,310.92 L250.00,311.25 L249.99,311.58 L249.98,311.91 L249.95,312.24 L249.91,312.57 L249.86,312.90" fill="none" stroke="#ff0000" stroke-width="3.2"/>
<circle cx="240.5" cy="311.25" r="8" fill="#fff"/>
<circle cx="297.3" cy="167.4" r="5.8" fill="#ff0000" stroke="#000" stroke-width="1.6"/>
<rect x="210.45" y="215.85" width="11.5" height="11.5" fill="#ff0000" stroke="#000" stroke-width="1.8"/>
<rect x="222.75" y="346.65" width="11.5" height="11.5" fill="#ffa000" stroke="#000" stroke-width="1.8"/>
<circle cx="228.2" cy="352.4" r="5.2" fill="#ffa000" stroke="#000" stroke-width="1.6"/>
<circle cx="195.2" cy="365.2" r="5.6" fill="#008000" stroke="#000" stroke-width="1.6"/>
<rect x="212.05" y="407.45" width="11.5" height="11.5" fill="#0000ff" stroke="#000" stroke-width="1.8"/>
<rect x="285.75" y="390.75" width="11.5" height="11.5" fill="#ffc0cb" stroke="#000" stroke-width="1.8"/>
<rect x="324.95" y="337.05" width="11.5" height="11.5" fill="#d0d0d0" stroke="#000" stroke-width="1.8"/>
<circle cx="335.6" cy="311.5" r="5.8" fill="#ffff00" stroke="#000" stroke-width="1.6"/>
<rect x="358.85" y="305.95" width="11.5" height="11.5" fill="#808080" stroke="#000" stroke-width="1.8"/>
<path d="M427.99,263.81 L426.21,257.25 L424.20,250.76 L421.96,244.34 L419.49,238.00 L416.81,231.76 L413.91,225.61 L410.79,219.57 L407.46,213.64 L403.93,207.84 L400.20,202.16 L396.26,196.61 L392.14,191.21 L387.83,185.96 L383.33,180.86 L378.66,175.92 L373.82,171.15 L368.82,166.55 L363.65,162.13 L358.34,157.89 L352.88,153.85 L347.28,150.00 L341.54,146.34 L335.69,142.90 L329.71,139.65 L323.63,136.63 L317.44,133.81 L311.16,131.22 L304.79,128.85 L298.34,126.70 L291.82,124.78 L285.23,123.09 L278.59,121.64 L271.91,120.42 L265.18,119.43 L258.43,118.68 L251.65,118.17 L244.86,117.90 L238.06,117.87 L231.27,118.07 L224.48,118.51 L217.72,119.20 L210.99,120.12 L204.29,121.27 L197.63,122.66 L191.03,124.28 L184.49,126.14 L178.02,128.22 L171.63,130.53 L165.32,133.06 L159.11,135.81 L152.99,138.78 L146.99,141.96 L141.10,145.35 L135.33,148.95 L129.69,152.74 L124.19,156.73 L118.83,160.92 L113.62,165.29 L108.57,169.83 L103.68,174.56 L98.97,179.45 L94.42,184.50 L90.06,189.72 L85.88,195.08 L81.89,200.58 L78.10,206.22 L74.51,211.99 L71.13,217.89 L67.95,223.90 L64.99,230.02 L62.24,236.23 L59.72,242.54 L57.41,248.94 L55.34,255.41 L53.49,261.95 L51.87,268.55 L50.49,275.21 L49.34,281.91 L48.43,288.64 L47.75,295.41 L47.31,302.19 L47.11,308.98 L47.15,315.78 L47.43,322.57 L47.95,329.35 L48.70,336.10 L49.70,342.83 L50.92,349.51 L52.38,356.15 L54.08,362.73 L56.00,369.25 L58.15,375.70 L60.53,382.07 L63.13,388.35 L65.95,394.53 L68.99,400.62 L72.23,406.59 L75.69,412.44 L79.34,418.17 L83.20,423.77 L87.25,429.23 L91.49,434.54 L95.91,439.70 L100.52,444.70 L105.29,449.54 L110.24,454.20 L115.34,458.69 L120.60,463.00 L126.00,467.12" fill="none" stroke="#0000ff" stroke-width="3.6"/>
<path d="M430.90,277.33 L431.98,284.09 L432.82,290.87 L433.42,297.69 L433.78,304.52 L433.90,311.35 L433.78,318.19 L433.41,325.02 L432.80,331.83 L431.95,338.62 L430.87,345.37 L429.54,352.08 L427.98,358.74 L426.18,365.34 L424.15,371.87 L421.90,378.32 L419.41,384.69 L416.70,390.97 L413.77,397.15 L410.63,403.23 L407.27,409.18 L403.70,415.02 L399.93,420.72 L395.96,426.29 L391.80,431.72 L387.44,436.99 L382.91,442.11 L378.19,447.06 L373.30,451.84 L368.25,456.45 L363.04,460.88 L357.67,465.12 L352.16,469.16 L346.50,473.01 L340.72,476.66 L334.81,480.10 L328.78,483.33 L322.64,486.34 L316.40,489.14 L310.06,491.71 L303.64,494.05 L297.13,496.17 L290.56,498.06 L283.92,499.71 L277.23,501.13 L270.50,502.31 L263.72,503.25 L256.92,503.95 L250.10,504.41 L243.26,504.63 L236.42,504.61 L229.59,504.34 L222.77,503.84 L215.97,503.09 L209.20,502.10 L202.48,500.88 L195.80,499.41 L189.17,497.71 L182.61,495.78 L176.12,493.62 L169.72,491.23 L163.40,488.62 L157.17,485.78 L151.06,482.72 L145.05,479.45 L139.16,475.97" fill="none" stroke="#ff0000" stroke-width="3.6"/>
<path d="M427.99,263.81 L428.41,265.49 L428.81,267.17 L429.20,268.86 L429.57,270.54 L429.92,272.24 L430.27,273.93 L430.59,275.63 L430.90,277.33" fill="none" stroke="#000" stroke-width="3.6"/>
<path d="M126.00,467.12 L127.61,468.28 L129.22,469.43 L130.85,470.56 L132.49,471.68 L134.14,472.78 L135.80,473.86 L137.48,474.93 L139.16,475.97" fill="none" stroke="#000" stroke-width="3.6"/>
<text x="171.6" y="121.1" font-size="14" fill="#ff0000" text-anchor="middle" textLength="16" lengthAdjust="spacingAndGlyphs" stroke="#fff" stroke-width="0.25">19</text>
<text x="127.6" y="141.1" font-size="14" fill="#ff0000" text-anchor="middle" textLength="16" lengthAdjust="spacingAndGlyphs" stroke="#fff" stroke-width="0.25">18</text>
<text x="90.3" y="171.1" font-size="14" fill="#ff0000" text-anchor="middle" textLength="16" lengthAdjust="spacingAndGlyphs" stroke="#fff" stroke-width="0.25">17</text>
<text x="60.4" y="208.5" font-size="14" fill="#ff0000" text-anchor="middle" textLength="16" lengthAdjust="spacingAndGlyphs" stroke="#fff" stroke-width="0.25">16</text>
<text x="40.6" y="252.3" font-size="14" fill="#ff0000" text-anchor="middle" textLength="16" lengthAdjust="spacingAndGlyphs" stroke="#fff" stroke-width="0.25">15</text>
<text x="31.3" y="298.2" font-size="14" fill="#ff0000" text-anchor="middle" textLength="16" lengthAdjust="spacingAndGlyphs" stroke="#fff" stroke-width="0.25">14</text>
<text x="31.7" y="345" font-size="14" fill="#ff0000" text-anchor="middle" textLength="16" lengthAdjust="spacingAndGlyphs" stroke="#fff" stroke-width="0.25">13</text>
<text x="45" y="391.4" font-size="14" fill="#ff0000" text-anchor="middle" textLength="16" lengthAdjust="spacingAndGlyphs" stroke="#fff" stroke-width="0.25">12</text>
<text x="67.7" y="433.5" font-size="14" fill="#ff0000" text-anchor="middle" textLength="16" lengthAdjust="spacingAndGlyphs" stroke="#fff" stroke-width="0.25">11</text>
<text x="100.6" y="468.75" font-size="14" fill="#ff0000" text-anchor="middle" textLength="16" lengthAdjust="spacingAndGlyphs" stroke="#fff" stroke-width="0.25">10</text>
<text x="138.3" y="496.25" font-size="14" fill="#ff0000" text-anchor="middle" textLength="7.5" lengthAdjust="spacingAndGlyphs" stroke="#fff" stroke-width="0.25">9</text>
<text x="183.9" y="514.2" font-size="14" fill="#ff0000" text-anchor="middle" textLength="7.5" lengthAdjust="spacingAndGlyphs" stroke="#fff" stroke-width="0.25">8</text>
<text x="230" y="523.4" font-size="14" fill="#ff0000" text-anchor="middle" textLength="7.5" lengthAdjust="spacingAndGlyphs" stroke="#fff" stroke-width="0.25">7</text>
<text x="280" y="517.3" font-size="14" fill="#ff0000" text-anchor="middle" textLength="7.5" lengthAdjust="spacingAndGlyphs" stroke="#fff" stroke-width="0.25">6</text>
<text x="325" y="503.5" font-size="14" fill="#ff0000" text-anchor="middle" textLength="7.5" lengthAdjust="spacingAndGlyphs" stroke="#fff" stroke-width="0.25">5</text>
<text x="367" y="480.3" font-size="14" fill="#ff0000" text-anchor="middle" textLength="7.5" lengthAdjust="spacingAndGlyphs" stroke="#fff" stroke-width="0.25">4</text>
<text x="402" y="447" font-size="14" fill="#ff0000" text-anchor="middle" textLength="7.5" lengthAdjust="spacingAndGlyphs" stroke="#fff" stroke-width="0.25">3</text>
<text x="428.4" y="407.3" font-size="14" fill="#ff0000" text-anchor="middle" textLength="7.5" lengthAdjust="spacingAndGlyphs" stroke="#fff" stroke-width="0.25">2</text>
<text x="445" y="362.3" font-size="14" fill="#ff0000" text-anchor="middle" textLength="7.5" lengthAdjust="spacingAndGlyphs" stroke="#fff" stroke-width="0.25">1</text>
<text x="449.4" y="303.5" font-size="14" fill="#ff0000" text-anchor="middle" textLength="16" lengthAdjust="spacingAndGlyphs" stroke="#fff" stroke-width="0.25">27</text>
<text x="441.2" y="256.2" font-size="14" fill="#ff0000" text-anchor="middle" textLength="16" lengthAdjust="spacingAndGlyphs" stroke="#fff" stroke-width="0.25">26</text>
<text x="422" y="213" font-size="14" fill="#ff0000" text-anchor="middle" textLength="16" lengthAdjust="spacingAndGlyphs" stroke="#fff" stroke-width="0.25">25</text>
<text x="393.8" y="174" font-size="14" fill="#ff0000" text-anchor="middle" textLength="16" lengthAdjust="spacingAndGlyphs" stroke="#fff" stroke-width="0.25">24</text>
<text x="356.5" y="143.3" font-size="14" fill="#ff0000" text-anchor="middle" textLength="16" lengthAdjust="spacingAndGlyphs" stroke="#fff" stroke-width="0.25">23</text>
<text x="313.5" y="122.5" font-size="14" fill="#ff0000" text-anchor="middle" textLength="16" lengthAdjust="spacingAndGlyphs" stroke="#fff" stroke-width="0.25">22</text>
<text x="265.3" y="110.4" font-size="14" fill="#ff0000" text-anchor="middle" textLength="16" lengthAdjust="spacingAndGlyphs" stroke="#fff" stroke-width="0.25">21</text>
<text x="217.5" y="110.4" font-size="14" fill="#ff0000" text-anchor="middle" textLength="16" lengthAdjust="spacingAndGlyphs" stroke="#fff" stroke-width="0.25">20</text>
<path d="M430.0,357.1L432.9,357.8M414.6,399.1L417.3,400.5M390.0,436.5L392.3,438.4M357.5,467.3L359.3,469.7M318.8,489.8L320.0,492.6M276.0,503.0L276.6,505.9M231.4,506.0L231.2,509.0M187.2,498.8L186.4,501.7M145.8,481.7L144.4,484.4M109.5,455.7L107.4,457.9M80.0,422.0L77.5,423.7M59.0,382.5L56.2,383.6M47.5,339.2L44.5,339.6M46.2,294.5L43.2,294.2M55.2,250.6L52.3,249.7M73.9,209.9L71.3,208.4M101.4,174.6L99.2,172.5M136.2,146.5L134.6,144.0M176.5,127.1L175.5,124.2M220.2,117.3L219.9,114.3M264.9,117.8L265.3,114.8M308.4,128.5L309.5,125.6M348.3,148.8L350.0,146.3M382.5,177.6L384.7,175.6M409.2,213.5L411.8,212.0M427.1,254.6L429.9,253.7M435.1,298.6L438.1,298.4" stroke="#000" stroke-width="1"/>
<text x="224.6" y="110.8" font-size="15" fill="#000" text-anchor="start" textLength="31.2" lengthAdjust="spacingAndGlyphs" stroke="#fff" stroke-width="0.25">W90</text>
<text x="227" y="524.5" font-size="15" fill="#000" text-anchor="start" textLength="27" lengthAdjust="spacingAndGlyphs" stroke="#fff" stroke-width="0.25">E90</text>
<text x="445" y="317.5" font-size="15" fill="#000" text-anchor="start" textLength="9.6" lengthAdjust="spacingAndGlyphs" stroke="#fff" stroke-width="0.25">0</text>
<text x="455" y="309.5" font-size="10" fill="#000" text-anchor="start" textLength="6" lengthAdjust="spacingAndGlyphs" stroke="#fff" stroke-width="0.25">o</text>
<text x="215" y="535.5" font-size="15" fill="#000" text-anchor="start" textLength="36.7" lengthAdjust="spacingAndGlyphs" stroke="#fff" stroke-width="0.25">Pdyn</text>
<text x="260" y="535.5" font-size="15" fill="#000" text-anchor="start" textLength="43.3" lengthAdjust="spacingAndGlyphs" stroke="#fff" stroke-width="0.25">(nPa)</text>
<path d="M490.50,263.65 L492.16,263.68 L493.82,263.77 L495.48,263.91 L497.12,264.11 L498.77,264.37 L500.40,264.69 L502.02,265.06 L503.62,265.49 L505.21,265.98 L506.78,266.52 L508.33,267.12 L509.86,267.77 L511.37,268.47 L512.85,269.22 L514.30,270.03 L515.72,270.88 L517.12,271.79 L518.48,272.74 L519.81,273.74 L521.10,274.79 L522.35,275.88 L523.57,277.01 L524.74,278.18 L525.87,279.40 L526.96,280.65 L528.01,281.94 L529.01,283.27 L529.96,284.63 L530.87,286.03 L531.72,287.45 L532.53,288.90 L533.28,290.38 L533.98,291.89 L534.63,293.42 L535.23,294.97 L535.77,296.54 L536.26,298.13 L536.69,299.73 L537.06,301.35 L537.38,302.98 L537.64,304.63 L537.84,306.27 L537.98,307.93 L538.07,309.59 L538.10,311.25 L538.07,312.91 L537.98,314.57 L537.84,316.23 L537.64,317.87 L537.38,319.52 L537.06,321.15 L536.69,322.77 L536.26,324.37 L535.77,325.96 L535.23,327.53 L534.63,329.08 L533.98,330.61 L533.28,332.12 L532.53,333.60 L531.72,335.05 L530.87,336.47 L529.96,337.87 L529.01,339.23 L528.01,340.56 L526.96,341.85 L525.87,343.10 L524.74,344.32 L523.57,345.49 L522.35,346.62 L521.10,347.71 L519.81,348.76 L518.48,349.76 L517.12,350.71 L515.72,351.62 L514.30,352.47 L512.85,353.28 L511.37,354.03 L509.86,354.73 L508.33,355.38 L506.78,355.98 L505.21,356.52 L503.62,357.01 L502.02,357.44 L500.40,357.81 L498.77,358.13 L497.12,358.39 L495.48,358.59 L493.82,358.73 L492.16,358.82 L490.50,358.85" fill="none" stroke="#000" stroke-width="1"/>
<path d="M490.50,216.05 L493.82,216.11 L497.14,216.28 L500.45,216.57 L503.75,216.98 L507.03,217.50 L510.29,218.13 L513.53,218.88 L516.74,219.74 L519.92,220.71 L523.06,221.79 L526.16,222.98 L529.22,224.28 L532.23,225.68 L535.19,227.19 L538.10,228.80 L540.95,230.52 L543.74,232.33 L546.46,234.23 L549.11,236.23 L551.69,238.32 L554.20,240.50 L556.63,242.77 L558.98,245.12 L561.25,247.55 L563.43,250.06 L565.52,252.64 L567.52,255.29 L569.42,258.01 L571.23,260.80 L572.95,263.65 L574.56,266.56 L576.07,269.52 L577.47,272.53 L578.77,275.59 L579.96,278.69 L581.04,281.83 L582.01,285.01 L582.87,288.22 L583.62,291.46 L584.25,294.72 L584.77,298.00 L585.18,301.30 L585.47,304.61 L585.64,307.93 L585.70,311.25 L585.64,314.57 L585.47,317.89 L585.18,321.20 L584.77,324.50 L584.25,327.78 L583.62,331.04 L582.87,334.28 L582.01,337.49 L581.04,340.67 L579.96,343.81 L578.77,346.91 L577.47,349.97 L576.07,352.98 L574.56,355.94 L572.95,358.85 L571.23,361.70 L569.42,364.49 L567.52,367.21 L565.52,369.86 L563.43,372.44 L561.25,374.95 L558.98,377.38 L556.63,379.73 L554.20,382.00 L551.69,384.18 L549.11,386.27 L546.46,388.27 L543.74,390.17 L540.95,391.98 L538.10,393.70 L535.19,395.31 L532.23,396.82 L529.22,398.22 L526.16,399.52 L523.06,400.71 L519.92,401.79 L516.74,402.76 L513.53,403.62 L510.29,404.37 L507.03,405.00 L503.75,405.52 L500.45,405.93 L497.14,406.22 L493.82,406.39 L490.50,406.45" fill="none" stroke="#000" stroke-width="1"/>
<path d="M490.50,168.35 L495.49,168.44 L500.47,168.70 L505.44,169.13 L510.39,169.74 L515.31,170.52 L520.21,171.47 L525.07,172.59 L529.89,173.89 L534.66,175.34 L539.37,176.97 L544.03,178.76 L548.62,180.70 L553.14,182.81 L557.59,185.08 L561.95,187.49 L566.23,190.06 L570.41,192.78 L574.49,195.64 L578.48,198.64 L582.35,201.78 L586.12,205.05 L589.77,208.46 L593.29,211.98 L596.70,215.63 L599.97,219.40 L603.11,223.27 L606.11,227.26 L608.97,231.34 L611.69,235.52 L614.26,239.80 L616.67,244.16 L618.94,248.61 L621.05,253.13 L622.99,257.72 L624.78,262.38 L626.41,267.09 L627.86,271.86 L629.16,276.68 L630.28,281.54 L631.23,286.44 L632.01,291.36 L632.62,296.31 L633.05,301.28 L633.31,306.26 L633.40,311.25 L633.31,316.24 L633.05,321.22 L632.62,326.19 L632.01,331.14 L631.23,336.06 L630.28,340.96 L629.16,345.82 L627.86,350.64 L626.41,355.41 L624.78,360.12 L622.99,364.78 L621.05,369.37 L618.94,373.89 L616.67,378.34 L614.26,382.70 L611.69,386.98 L608.97,391.16 L606.11,395.24 L603.11,399.23 L599.97,403.10 L596.70,406.87 L593.29,410.52 L589.77,414.04 L586.12,417.45 L582.35,420.72 L578.48,423.86 L574.49,426.86 L570.41,429.72 L566.23,432.44 L561.95,435.01 L557.59,437.42 L553.14,439.69 L548.62,441.80 L544.03,443.74 L539.37,445.53 L534.66,447.16 L529.89,448.61 L525.07,449.91 L520.21,451.03 L515.31,451.98 L510.39,452.76 L505.44,453.37 L500.47,453.80 L495.49,454.06 L490.50,454.15" fill="none" stroke="#000" stroke-width="1"/>
<path d="M490.50,119.65 L497.19,119.77 L503.87,120.12 L510.53,120.70 L517.17,121.51 L523.77,122.56 L530.34,123.84 L536.85,125.34 L543.31,127.07 L549.71,129.03 L556.03,131.20 L562.27,133.60 L568.43,136.21 L574.49,139.04 L580.45,142.08 L586.30,145.32 L592.03,148.76 L597.64,152.41 L603.12,156.24 L608.46,160.27 L613.66,164.48 L618.71,168.86 L623.60,173.42 L628.33,178.15 L632.89,183.04 L637.27,188.09 L641.48,193.29 L645.51,198.63 L649.34,204.11 L652.99,209.72 L656.43,215.45 L659.67,221.30 L662.71,227.26 L665.54,233.32 L668.15,239.48 L670.55,245.72 L672.72,252.04 L674.68,258.44 L676.41,264.90 L677.91,271.41 L679.19,277.98 L680.24,284.58 L681.05,291.22 L681.63,297.88 L681.98,304.56 L682.10,311.25 L681.98,317.94 L681.63,324.62 L681.05,331.28 L680.24,337.92 L679.19,344.52 L677.91,351.09 L676.41,357.60 L674.68,364.06 L672.72,370.46 L670.55,376.78 L668.15,383.02 L665.54,389.18 L662.71,395.24 L659.67,401.20 L656.43,407.05 L652.99,412.78 L649.34,418.39 L645.51,423.87 L641.48,429.21 L637.27,434.41 L632.89,439.46 L628.33,444.35 L623.60,449.08 L618.71,453.64 L613.66,458.02 L608.46,462.23 L603.12,466.26 L597.64,470.09 L592.03,473.74 L586.30,477.18 L580.45,480.42 L574.49,483.46 L568.43,486.29 L562.27,488.90 L556.03,491.30 L549.71,493.47 L543.31,495.43 L536.85,497.16 L530.34,498.66 L523.77,499.94 L517.17,500.99 L510.53,501.80 L503.87,502.38 L497.19,502.73 L490.50,502.85" fill="none" stroke="#000" stroke-width="1"/>
<line x1="490.5" y1="120.75" x2="490.5" y2="501.75" stroke="#000" stroke-width="1.2"/>
<g clip-path="url(#cW)">
<rect x="480" y="100" width="220" height="420" fill="#403ce4"/>
<g filter="url(#b3)">
<ellipse cx="595" cy="225" rx="40" ry="30" fill="#4040c8" opacity="1" transform="rotate(30 595 225)"/>
<ellipse cx="630" cy="385" rx="22" ry="25" fill="#4040c8" opacity="1" transform="rotate(0 630 385)"/>
<ellipse cx="600" cy="165" rx="24" ry="12" fill="#4a6cff" opacity="1" transform="rotate(-30 600 165)"/>
<ellipse cx="600" cy="162" rx="10" ry="6" fill="#4c8cff" opacity="1" transform="rotate(-30 600 162)"/>
<ellipse cx="653" cy="248" rx="13" ry="58" fill="#4a7cff" opacity="1" transform="rotate(-12 653 248)"/>
<ellipse cx="653" cy="228" rx="8" ry="32" fill="#4c9cff" opacity="1" transform="rotate(-22 653 228)"/>
<ellipse cx="654" cy="220" rx="5" ry="17" fill="#30f0e0" opacity="1" transform="rotate(-25 654 220)"/>
<ellipse cx="652" cy="213" rx="3" ry="6" fill="#20d0a0" opacity="1" transform="rotate(-25 652 213)"/>
<ellipse cx="550" cy="262" rx="15" ry="12" fill="#4a6cff" opacity="1" transform="rotate(0 550 262)"/>
<ellipse cx="546" cy="260" rx="7" ry="5" fill="#4c8cff" opacity="1" transform="rotate(0 546 260)"/>
<ellipse cx="525" cy="283" rx="13" ry="10" fill="#4a6cff" opacity="1" transform="rotate(0 525 283)"/>
<ellipse cx="597" cy="282" rx="24" ry="16" fill="#4a6cff" opacity="1" transform="rotate(0 597 282)"/>
<ellipse cx="648" cy="282" rx="22" ry="22" fill="#4a6cff" opacity="1" transform="rotate(0 648 282)"/>
<ellipse cx="594" cy="340" rx="36" ry="26" fill="#4a6cff" opacity="1" transform="rotate(45 594 340)"/>
<ellipse cx="600" cy="330" rx="22" ry="14" fill="#4c8cff" opacity="1" transform="rotate(45 600 330)"/>
<ellipse cx="604" cy="325" rx="10" ry="6" fill="#40e0ff" opacity="1" transform="rotate(40 604 325)"/>
<ellipse cx="580" cy="360" rx="14" ry="16" fill="#4a6cff" opacity="1" transform="rotate(0 580 360)"/>
<ellipse cx="668" cy="368" rx="12" ry="28" fill="#4a6cff" opacity="1" transform="rotate(0 668 368)"/>
<ellipse cx="650" cy="420" rx="12" ry="14" fill="#4a6cff" opacity="1" transform="rotate(0 650 420)"/>
<ellipse cx="528" cy="322" rx="14" ry="8" fill="#4a6cff" opacity="1" transform="rotate(0 528 322)"/>
</g>
<line x1="490.5" y1="311.25" x2="683.5" y2="311.25" stroke="#000" stroke-width="1"/>
<line x1="490.5" y1="311.25" x2="626.26" y2="175.49" stroke="#000" stroke-width="1"/>
<line x1="490.5" y1="311.25" x2="626.26" y2="447.01" stroke="#000" stroke-width="1"/>
<path d="M512.85,269.22 L514.30,270.03 L515.72,270.88 L517.12,271.79 L518.48,272.74 L519.81,273.74 L521.10,274.79 L522.35,275.88 L523.57,277.01 L524.74,278.18 L525.87,279.40 L526.96,280.65 L528.01,281.94 L529.01,283.27 L529.96,284.63 L530.87,286.03 L531.72,287.45 L532.53,288.90 L533.28,290.38 L533.98,291.89 L534.63,293.42 L535.23,294.97 L535.77,296.54 L536.26,298.13 L536.69,299.73 L537.06,301.35 L537.38,302.98 L537.64,304.63 L537.84,306.27 L537.98,307.93 L538.07,309.59 L538.10,311.25 L538.07,312.91 L537.98,314.57 L537.84,316.23 L537.64,317.87 L537.38,319.52 L537.06,321.15 L536.69,322.77 L536.26,324.37 L535.77,325.96 L535.23,327.53 L534.63,329.08 L533.98,330.61 L533.28,332.12 L532.53,333.60 L531.72,335.05 L530.87,336.47 L529.96,337.87 L529.01,339.23 L528.01,340.56 L526.96,341.85 L525.87,343.10 L524.74,344.32 L523.57,345.49 L522.35,346.62 L521.10,347.71 L519.81,348.76 L518.48,349.76 L517.12,350.71 L515.72,351.62 L514.30,352.47 L512.85,353.28" fill="none" stroke="#000" stroke-width="1"/>
<path d="M535.19,227.19 L538.10,228.80 L540.95,230.52 L543.74,232.33 L546.46,234.23 L549.11,236.23 L551.69,238.32 L554.20,240.50 L556.63,242.77 L558.98,245.12 L561.25,247.55 L563.43,250.06 L565.52,252.64 L567.52,255.29 L569.42,258.01 L571.23,260.80 L572.95,263.65 L574.56,266.56 L576.07,269.52 L577.47,272.53 L578.77,275.59 L579.96,278.69 L581.04,281.83 L582.01,285.01 L582.87,288.22 L583.62,291.46 L584.25,294.72 L584.77,298.00 L585.18,301.30 L585.47,304.61 L585.64,307.93 L585.70,311.25 L585.64,314.57 L585.47,317.89 L585.18,321.20 L584.77,324.50 L584.25,327.78 L583.62,331.04 L582.87,334.28 L582.01,337.49 L581.04,340.67 L579.96,343.81 L578.77,346.91 L577.47,349.97 L576.07,352.98 L574.56,355.94 L572.95,358.85 L571.23,361.70 L569.42,364.49 L567.52,367.21 L565.52,369.86 L563.43,372.44 L561.25,374.95 L558.98,377.38 L556.63,379.73 L554.20,382.00 L551.69,384.18 L549.11,386.27 L546.46,388.27 L543.74,390.17 L540.95,391.98 L538.10,393.70 L535.19,395.31" fill="none" stroke="#000" stroke-width="1"/>
<path d="M557.59,185.08 L561.95,187.49 L566.23,190.06 L570.41,192.78 L574.49,195.64 L578.48,198.64 L582.35,201.78 L586.12,205.05 L589.77,208.46 L593.29,211.98 L596.70,215.63 L599.97,219.40 L603.11,223.27 L606.11,227.26 L608.97,231.34 L611.69,235.52 L614.26,239.80 L616.67,244.16 L618.94,248.61 L621.05,253.13 L622.99,257.72 L624.78,262.38 L626.41,267.09 L627.86,271.86 L629.16,276.68 L630.28,281.54 L631.23,286.44 L632.01,291.36 L632.62,296.31 L633.05,301.28 L633.31,306.26 L633.40,311.25 L633.31,316.24 L633.05,321.22 L632.62,326.19 L632.01,331.14 L631.23,336.06 L630.28,340.96 L629.16,345.82 L627.86,350.64 L626.41,355.41 L624.78,360.12 L622.99,364.78 L621.05,369.37 L618.94,373.89 L616.67,378.34 L614.26,382.70 L611.69,386.98 L608.97,391.16 L606.11,395.24 L603.11,399.23 L599.97,403.10 L596.70,406.87 L593.29,410.52 L589.77,414.04 L586.12,417.45 L582.35,420.72 L578.48,423.86 L574.49,426.86 L570.41,429.72 L566.23,432.44 L561.95,435.01 L557.59,437.42" fill="none" stroke="#000" stroke-width="1"/>
</g>
<path d="M586.50,144.97 L592.24,148.42 L597.87,152.07 L603.35,155.92 L608.71,159.95 L613.92,164.17 L618.97,168.57 L623.87,173.14 L628.61,177.88 L633.18,182.78 L637.58,187.83 L641.80,193.04 L645.83,198.40 L649.68,203.88 L653.33,209.51 L656.78,215.25 L660.03,221.11 L663.07,227.08 L665.90,233.16 L668.52,239.33 L670.92,245.58 L673.10,251.92 L675.06,258.33 L676.80,264.80 L678.30,271.33 L679.58,277.91 L680.63,284.53 L681.45,291.18 L682.03,297.86 L682.38,304.55 L682.50,311.25 L682.38,317.95 L682.03,324.64 L681.45,331.32 L680.63,337.97 L679.58,344.59 L678.30,351.17 L676.80,357.70 L675.06,364.17 L673.10,370.58 L670.92,376.92 L668.52,383.17 L665.90,389.34 L663.07,395.42 L660.03,401.39 L656.78,407.25 L653.33,412.99 L649.68,418.62 L645.83,424.10 L641.80,429.46 L637.58,434.67 L633.18,439.72 L628.61,444.62 L623.87,449.36 L618.97,453.93 L613.92,458.33 L608.71,462.55 L603.35,466.58 L597.87,470.43 L592.24,474.08 L586.50,477.53 L495.50,319.91 L497.19,318.68 L498.59,317.13 L499.64,315.32 L500.28,313.33 L500.50,311.25 L500.28,309.17 L499.64,307.18 L498.59,305.37 L497.19,303.82 L495.50,302.59Z" fill="none" stroke="#ff0000" stroke-width="3.4" stroke-linejoin="miter"/>
<path d="M495.2,303.2 L499.8,295.2" stroke="#0000ff" stroke-width="3.6"/>
<path d="M502.5,309.7 C508.2,309.4 526.5,308.8 536.9,308.1 C547.3,307.5 557.1,306.3 565.0,305.8 C572.9,305.3 580.3,306.2 584.5,305.0 C588.7,303.8 587.5,299.7 590.0,298.8 C592.5,297.9 595.8,299.2 599.4,299.5 C603.0,299.8 611.4,299.9 611.9,300.3 C612.4,300.7 605.9,301.4 602.5,301.9 C599.1,302.4 593.4,303.1 591.6,303.4" stroke="#fff" stroke-width="2.2" fill="none"/>
<path d="M502.5,309.7 C508.2,309.4 526.5,308.8 536.9,308.1 C547.3,307.5 557.1,306.3 565.0,305.8 C572.9,305.3 580.3,306.2 584.5,305.0 C588.7,303.8 587.5,299.7 590.0,298.8 C592.5,297.9 595.8,299.2 599.4,299.5 C603.0,299.8 611.4,299.9 611.9,300.3 C612.4,300.7 605.9,301.4 602.5,301.9 C599.1,302.4 593.4,303.1 591.6,303.4" stroke="#000" stroke-width="2.2" fill="none" stroke-dasharray="4 3"/>
<circle cx="584.5" cy="305" r="5.8" fill="#ffff00" stroke="#000" stroke-width="1.6"/>
<text x="474.5" y="525" font-size="15" fill="#000" text-anchor="start" textLength="30" lengthAdjust="spacingAndGlyphs" stroke="#fff" stroke-width="0.25">S90</text>
<text x="689" y="318.3" font-size="15" fill="#000" text-anchor="start" textLength="9.6" lengthAdjust="spacingAndGlyphs" stroke="#fff" stroke-width="0.25">0</text>
<text x="699" y="310" font-size="10" fill="#000" text-anchor="start" textLength="6" lengthAdjust="spacingAndGlyphs" stroke="#fff" stroke-width="0.25">o</text>
<rect x="754.7" y="119.5" width="191.79999999999995" height="383.1" fill="none" stroke="#000" stroke-width="1.2"/>
<g clip-path="url(#cR)">
<rect x="780" y="118" width="140" height="390" fill="#403ce4"/>
<g filter="url(#b3)">
<ellipse cx="813" cy="156" rx="26" ry="10" fill="#4a6cff" opacity="1" transform="rotate(0 813 156)"/>
<ellipse cx="812" cy="158" rx="12" ry="4" fill="#4c8cff" opacity="1" transform="rotate(0 812 158)"/>
<ellipse cx="870" cy="152" rx="18" ry="12" fill="#4a6cff" opacity="1" transform="rotate(20 870 152)"/>
<ellipse cx="867" cy="152" rx="7" ry="4" fill="#4c9cff" opacity="1" transform="rotate(0 867 152)"/>
<ellipse cx="874" cy="132" rx="12" ry="5" fill="#4040c8" opacity="1" transform="rotate(0 874 132)"/>
<ellipse cx="820" cy="207" rx="12" ry="6" fill="#4040c8" opacity="1" transform="rotate(0 820 207)"/>
<ellipse cx="905" cy="160" rx="7" ry="34" fill="#4c8cff" opacity="1" transform="rotate(0 905 160)"/>
<ellipse cx="904" cy="153" rx="3" ry="12" fill="#40d0ff" opacity="1" transform="rotate(0 904 153)"/>
<ellipse cx="880" cy="200" rx="34" ry="13" fill="#4a7cff" opacity="1" transform="rotate(-50 880 200)"/>
<ellipse cx="880" cy="200" rx="28" ry="8" fill="#40d0ff" opacity="1" transform="rotate(-50 880 200)"/>
<ellipse cx="881" cy="199" rx="16" ry="5" fill="#20c070" opacity="1" transform="rotate(-50 881 199)"/>
<ellipse cx="883" cy="196" rx="7" ry="3" fill="#00a040" opacity="1" transform="rotate(-50 883 196)"/>
<ellipse cx="865" cy="222" rx="12" ry="6" fill="#4a6cff" opacity="1" transform="rotate(0 865 222)"/>
<ellipse cx="813" cy="242" rx="24" ry="15" fill="#4a7cff" opacity="1" transform="rotate(15 813 242)"/>
<ellipse cx="810" cy="239" rx="14" ry="8" fill="#40c0ff" opacity="1" transform="rotate(15 810 239)"/>
<ellipse cx="808" cy="238" rx="6" ry="4" fill="#30e8d0" opacity="1" transform="rotate(15 808 238)"/>
<ellipse cx="884" cy="259" rx="22" ry="12" fill="#4a6cff" opacity="1" transform="rotate(0 884 259)"/>
<ellipse cx="830" cy="290" rx="22" ry="12" fill="#4a6cff" opacity="1" transform="rotate(0 830 290)"/>
<ellipse cx="870" cy="330" rx="16" ry="8" fill="#4a6cff" opacity="1" transform="rotate(0 870 330)"/>
<ellipse cx="900" cy="330" rx="10" ry="12" fill="#4a6cff" opacity="1" transform="rotate(0 900 330)"/>
<ellipse cx="860" cy="465" rx="22" ry="10" fill="#4450f4" opacity="1" transform="rotate(0 860 465)"/>
<ellipse cx="820" cy="278" rx="10" ry="7" fill="#4040c8" opacity="1" transform="rotate(0 820 278)"/>
<ellipse cx="795" cy="282" rx="7" ry="15" fill="#4a6cff" opacity="1" transform="rotate(0 795 282)"/>
<ellipse cx="852" cy="300" rx="24" ry="16" fill="#4a6cff" opacity="1" transform="rotate(-30 852 300)"/>
<ellipse cx="857" cy="302" rx="10" ry="8" fill="#4c9cff" opacity="1" transform="rotate(-30 857 302)"/>
<ellipse cx="897" cy="288" rx="12" ry="10" fill="#4a6cff" opacity="1" transform="rotate(0 897 288)"/>
<ellipse cx="807" cy="327" rx="18" ry="11" fill="#4a7cff" opacity="1" transform="rotate(0 807 327)"/>
<ellipse cx="807" cy="327" rx="8" ry="5" fill="#40c0ff" opacity="1" transform="rotate(0 807 327)"/>
<ellipse cx="862" cy="316" rx="22" ry="7" fill="#4a6cff" opacity="1" transform="rotate(0 862 316)"/>
<ellipse cx="815" cy="353" rx="22" ry="7" fill="#4040c8" opacity="1" transform="rotate(0 815 353)"/>
<ellipse cx="875" cy="352" rx="25" ry="12" fill="#4040c8" opacity="1" transform="rotate(0 875 352)"/>
</g>
<path d="M788.0,384.0 C790.8,385.7 798.8,392.0 805.0,394.0 C811.2,396.0 817.3,396.5 825.0,396.0 C832.7,395.5 843.3,392.8 851.0,391.0 C858.7,389.2 864.8,384.8 871.0,385.0 C877.2,385.2 882.8,387.8 888.0,392.0 C893.2,396.2 899.7,407.0 902.0,410.0" stroke="#4a7cff" stroke-width="24" fill="none" stroke-linecap="round" filter="url(#b3)" opacity="1"/>
<path d="M792.0,386.0 C794.2,387.0 799.5,390.7 805.0,392.0 C810.5,393.3 817.3,394.5 825.0,394.0 C832.7,393.5 843.3,390.8 851.0,389.0 C858.7,387.2 865.2,383.0 871.0,383.0 C876.8,383.0 883.5,388.0 886.0,389.0" stroke="#30d8e0" stroke-width="13" fill="none" stroke-linecap="round" filter="url(#b2)" opacity="1"/>
<path d="M805.0,391.0 C808.3,391.3 817.3,393.5 825.0,393.0 C832.7,392.5 844.2,389.5 851.0,388.0 C857.8,386.5 863.5,384.7 866.0,384.0" stroke="#00c060" stroke-width="6" fill="none" stroke-linecap="round" filter="url(#b2)" opacity="1"/>
<g filter="url(#b3)">
<ellipse cx="847" cy="387" rx="6" ry="3" fill="#00a040" opacity="1" transform="rotate(0 847 387)"/>
<ellipse cx="822" cy="424" rx="36" ry="19" fill="#4a6cff" opacity="1" transform="rotate(0 822 424)"/>
<ellipse cx="818" cy="416" rx="15" ry="8" fill="#4c80ff" opacity="1" transform="rotate(0 818 416)"/>
<ellipse cx="878" cy="432" rx="14" ry="18" fill="#4040c8" opacity="1" transform="rotate(0 878 432)"/>
<ellipse cx="820" cy="482" rx="18" ry="18" fill="#4040c8" opacity="1" transform="rotate(0 820 482)"/>
<ellipse cx="906" cy="493" rx="6" ry="10" fill="#4c9cff" opacity="1" transform="rotate(0 906 493)"/>
</g>
</g>
<line x1="802.7" y1="119.5" x2="802.7" y2="502.6" stroke="#000" stroke-width="1"/>
<line x1="850.9" y1="119.5" x2="850.9" y2="502.6" stroke="#000" stroke-width="1"/>
<line x1="898.7" y1="119.5" x2="898.7" y2="502.6" stroke="#000" stroke-width="1"/>
<line x1="754.7" y1="167.4" x2="946.5" y2="167.4" stroke="#000" stroke-width="1"/>
<line x1="754.7" y1="215.3" x2="946.5" y2="215.3" stroke="#000" stroke-width="1"/>
<line x1="754.7" y1="263.4" x2="946.5" y2="263.4" stroke="#000" stroke-width="1"/>
<line x1="754.7" y1="311.4" x2="946.5" y2="311.4" stroke="#000" stroke-width="1"/>
<line x1="754.7" y1="359.3" x2="946.5" y2="359.3" stroke="#000" stroke-width="1"/>
<line x1="754.7" y1="407.3" x2="946.5" y2="407.3" stroke="#000" stroke-width="1"/>
<line x1="754.7" y1="455.3" x2="946.5" y2="455.3" stroke="#000" stroke-width="1"/>
<path d="M786.7,225.0 C788.6,225.3 791.9,225.9 798.3,226.7 C804.7,227.5 816.7,230.0 825.0,230.0 C833.3,230.0 842.2,229.8 848.3,226.7 C854.4,223.6 857.2,217.0 861.7,211.7 C866.2,206.4 870.6,201.7 875.0,195.0 C879.4,188.3 884.4,179.5 888.3,171.7 C892.2,163.9 896.1,156.6 898.3,148.3 C900.5,140.0 901.1,126.1 901.7,121.7" stroke="#fff" stroke-width="1.6" fill="none"/>
<path d="M786.7,373.3 C789.8,375.5 798.6,384.2 805.0,386.7 C811.4,389.2 817.2,388.9 825.0,388.3 C832.8,387.7 843.9,385.2 851.7,383.3 C859.5,381.4 865.6,376.4 871.7,376.7 C877.8,377.0 883.3,380.3 888.3,385.0 C893.3,389.7 897.8,398.1 901.7,405.0 C905.6,411.9 910.0,423.1 911.7,426.7" stroke="#fff" stroke-width="1.6" fill="none"/>
<path d="M905.0,501.0 L911.7,481.7" stroke="#fff" stroke-width="1.6" fill="none"/>
<text x="746.5" y="129.4" font-size="14.5" fill="#ff0000" text-anchor="end" textLength="18.5" lengthAdjust="spacingAndGlyphs" stroke="#fff" stroke-width="0.25">14</text>
<text x="746.5" y="143.6" font-size="14.5" fill="#ff0000" text-anchor="end" textLength="18.5" lengthAdjust="spacingAndGlyphs" stroke="#fff" stroke-width="0.25">15</text>
<text x="746.5" y="157.79999999999998" font-size="14.5" fill="#ff0000" text-anchor="end" textLength="18.5" lengthAdjust="spacingAndGlyphs" stroke="#fff" stroke-width="0.25">16</text>
<text x="746.5" y="172.0" font-size="14.5" fill="#ff0000" text-anchor="end" textLength="18.5" lengthAdjust="spacingAndGlyphs" stroke="#fff" stroke-width="0.25">17</text>
<text x="746.5" y="186.2" font-size="14.5" fill="#ff0000" text-anchor="end" textLength="18.5" lengthAdjust="spacingAndGlyphs" stroke="#fff" stroke-width="0.25">18</text>
<text x="746.5" y="200.39999999999998" font-size="14.5" fill="#ff0000" text-anchor="end" textLength="18.5" lengthAdjust="spacingAndGlyphs" stroke="#fff" stroke-width="0.25">19</text>
<text x="746.5" y="214.59999999999997" font-size="14.5" fill="#ff0000" text-anchor="end" textLength="18.5" lengthAdjust="spacingAndGlyphs" stroke="#fff" stroke-width="0.25">20</text>
<text x="746.5" y="228.79999999999998" font-size="14.5" fill="#ff0000" text-anchor="end" textLength="18.5" lengthAdjust="spacingAndGlyphs" stroke="#fff" stroke-width="0.25">21</text>
<text x="746.5" y="243.0" font-size="14.5" fill="#ff0000" text-anchor="end" textLength="18.5" lengthAdjust="spacingAndGlyphs" stroke="#fff" stroke-width="0.25">22</text>
<text x="746.5" y="257.2" font-size="14.5" fill="#ff0000" text-anchor="end" textLength="18.5" lengthAdjust="spacingAndGlyphs" stroke="#fff" stroke-width="0.25">23</text>
<text x="746.5" y="271.4" font-size="14.5" fill="#ff0000" text-anchor="end" textLength="18.5" lengthAdjust="spacingAndGlyphs" stroke="#fff" stroke-width="0.25">24</text>
<text x="746.5" y="285.59999999999997" font-size="14.5" fill="#ff0000" text-anchor="end" textLength="18.5" lengthAdjust="spacingAndGlyphs" stroke="#fff" stroke-width="0.25">25</text>
<text x="746.5" y="299.79999999999995" font-size="14.5" fill="#ff0000" text-anchor="end" textLength="18.5" lengthAdjust="spacingAndGlyphs" stroke="#fff" stroke-width="0.25">26</text>
<text x="746.5" y="314.0" font-size="14.5" fill="#ff0000" text-anchor="end" textLength="18.5" lengthAdjust="spacingAndGlyphs" stroke="#fff" stroke-width="0.25">27</text>
<text x="746.5" y="328.2" font-size="14.5" fill="#ff0000" text-anchor="end" textLength="8" lengthAdjust="spacingAndGlyphs" stroke="#fff" stroke-width="0.25">1</text>
<text x="746.5" y="342.4" font-size="14.5" fill="#ff0000" text-anchor="end" textLength="8" lengthAdjust="spacingAndGlyphs" stroke="#fff" stroke-width="0.25">2</text>
<text x="746.5" y="356.59999999999997" font-size="14.5" fill="#ff0000" text-anchor="end" textLength="8" lengthAdjust="spacingAndGlyphs" stroke="#fff" stroke-width="0.25">3</text>
<text x="746.5" y="370.79999999999995" font-size="14.5" fill="#ff0000" text-anchor="end" textLength="8" lengthAdjust="spacingAndGlyphs" stroke="#fff" stroke-width="0.25">4</text>
<text x="746.5" y="385.0" font-size="14.5" fill="#ff0000" text-anchor="end" textLength="8" lengthAdjust="spacingAndGlyphs" stroke="#fff" stroke-width="0.25">5</text>
<text x="746.5" y="399.2" font-size="14.5" fill="#ff0000" text-anchor="end" textLength="8" lengthAdjust="spacingAndGlyphs" stroke="#fff" stroke-width="0.25">6</text>
<text x="746.5" y="413.4" font-size="14.5" fill="#ff0000" text-anchor="end" textLength="8" lengthAdjust="spacingAndGlyphs" stroke="#fff" stroke-width="0.25">7</text>
<text x="746.5" y="427.59999999999997" font-size="14.5" fill="#ff0000" text-anchor="end" textLength="8" lengthAdjust="spacingAndGlyphs" stroke="#fff" stroke-width="0.25">8</text>
<text x="746.5" y="441.79999999999995" font-size="14.5" fill="#ff0000" text-anchor="end" textLength="8" lengthAdjust="spacingAndGlyphs" stroke="#fff" stroke-width="0.25">9</text>
<text x="746.5" y="455.99999999999994" font-size="14.5" fill="#ff0000" text-anchor="end" textLength="18.5" lengthAdjust="spacingAndGlyphs" stroke="#fff" stroke-width="0.25">10</text>
<text x="746.5" y="470.19999999999993" font-size="14.5" fill="#ff0000" text-anchor="end" textLength="18.5" lengthAdjust="spacingAndGlyphs" stroke="#fff" stroke-width="0.25">11</text>
<text x="746.5" y="484.4" font-size="14.5" fill="#ff0000" text-anchor="end" textLength="18.5" lengthAdjust="spacingAndGlyphs" stroke="#fff" stroke-width="0.25">12</text>
<text x="746.5" y="498.59999999999997" font-size="14.5" fill="#ff0000" text-anchor="end" textLength="18.5" lengthAdjust="spacingAndGlyphs" stroke="#fff" stroke-width="0.25">13</text>
<path d="M843.3,124.2L851,124.2M749.5,124.2L754.7,124.2M843.3,138.4L851,138.4M749.5,138.4L754.7,138.4M843.3,152.6L851,152.6M749.5,152.6L754.7,152.6M843.3,166.8L851,166.8M749.5,166.8L754.7,166.8M843.3,181.0L851,181.0M749.5,181.0L754.7,181.0M843.3,195.2L851,195.2M749.5,195.2L754.7,195.2M843.3,209.4L851,209.4M749.5,209.4L754.7,209.4M843.3,223.6L851,223.6M749.5,223.6L754.7,223.6M843.3,237.8L851,237.8M749.5,237.8L754.7,237.8M843.3,252.0L851,252.0M749.5,252.0L754.7,252.0M843.3,266.2L851,266.2M749.5,266.2L754.7,266.2M843.3,280.4L851,280.4M749.5,280.4L754.7,280.4M843.3,294.6L851,294.6M749.5,294.6L754.7,294.6M843.3,308.8L851,308.8M749.5,308.8L754.7,308.8M843.3,323.0L851,323.0M749.5,323.0L754.7,323.0M843.3,337.2L851,337.2M749.5,337.2L754.7,337.2M843.3,351.4L851,351.4M749.5,351.4L754.7,351.4M843.3,365.6L851,365.6M749.5,365.6L754.7,365.6M843.3,379.8L851,379.8M749.5,379.8L754.7,379.8M843.3,394.0L851,394.0M749.5,394.0L754.7,394.0M843.3,408.2L851,408.2M749.5,408.2L754.7,408.2M843.3,422.4L851,422.4M749.5,422.4L754.7,422.4M843.3,436.6L851,436.6M749.5,436.6L754.7,436.6M843.3,450.8L851,450.8M749.5,450.8L754.7,450.8M843.3,465.0L851,465.0M749.5,465.0L754.7,465.0M843.3,479.2L851,479.2M749.5,479.2L754.7,479.2M843.3,493.4L851,493.4M749.5,493.4L754.7,493.4" stroke="#000" stroke-width="1"/>
<ellipse cx="845.6" cy="312.5" rx="5.6" ry="4.3" fill="#ffff00" stroke="#000" stroke-width="1.8"/>
<rect x="838.25" y="326.75" width="11.5" height="11.5" fill="#d0d0d0" stroke="#000" stroke-width="1.8"/>
<rect x="836.55" y="368.45" width="11.5" height="11.5" fill="#ffc0cb" stroke="#000" stroke-width="1.8"/>
<rect x="839.05" y="415.45" width="11.5" height="11.5" fill="#0000ff" stroke="#000" stroke-width="1.8"/>
<rect x="850.95" y="193.55" width="11.5" height="11.5" fill="#ff0000" stroke="#000" stroke-width="1.8"/>
<line x1="786.3" y1="121.2" x2="786.3" y2="225" stroke="#0000ff" stroke-width="3.6"/>
<line x1="786.3" y1="225" x2="786.3" y2="229" stroke="#000" stroke-width="3.6"/>
<line x1="786.3" y1="229" x2="786.3" y2="370" stroke="#ff0000" stroke-width="3.6"/>
<line x1="786.3" y1="370" x2="786.3" y2="373.5" stroke="#000" stroke-width="3.6"/>
<line x1="786.3" y1="373.5" x2="786.3" y2="502.6" stroke="#0000ff" stroke-width="3.6"/>
<line x1="913.3" y1="121.2" x2="913.3" y2="427" stroke="#ff0000" stroke-width="3.6"/>
<line x1="913.3" y1="427" x2="913.3" y2="430" stroke="#000" stroke-width="3.6"/>
<line x1="913.3" y1="430" x2="913.3" y2="481.5" stroke="#0000ff" stroke-width="3.6"/>
<line x1="913.3" y1="481.5" x2="913.3" y2="484.5" stroke="#000" stroke-width="3.6"/>
<line x1="913.3" y1="484.5" x2="913.3" y2="502.6" stroke="#ff0000" stroke-width="3.6"/>
<line x1="784.5" y1="123" x2="900" y2="123" stroke="#0000ff" stroke-width="3.6"/>
<line x1="900" y1="123" x2="903.3" y2="123" stroke="#000" stroke-width="3.6"/>
<line x1="903.3" y1="123" x2="915.0999999999999" y2="123" stroke="#ff0000" stroke-width="3.6"/>
<line x1="784.5" y1="500.8" x2="902.5" y2="500.8" stroke="#0000ff" stroke-width="3.6"/>
<line x1="902.5" y1="500.8" x2="905.5" y2="500.8" stroke="#000" stroke-width="3.6"/>
<line x1="905.5" y1="500.8" x2="915.0999999999999" y2="500.8" stroke="#ff0000" stroke-width="3.6"/>
<text x="712" y="516" font-size="15" fill="#000" text-anchor="start" textLength="37.6" lengthAdjust="spacingAndGlyphs" stroke="#fff" stroke-width="0.25">E180</text>
<text x="754.7" y="525.2" font-size="15" fill="#000" text-anchor="start" textLength="28.9" lengthAdjust="spacingAndGlyphs" stroke="#fff" stroke-width="0.25">N90</text>
<text x="841.9" y="525.2" font-size="15" fill="#000" text-anchor="start" textLength="9.6" lengthAdjust="spacingAndGlyphs" stroke="#fff" stroke-width="0.25">0</text>
<text x="852" y="517" font-size="10" fill="#000" text-anchor="start" textLength="6" lengthAdjust="spacingAndGlyphs" stroke="#fff" stroke-width="0.25">o</text>
<text x="915.5" y="525.2" font-size="15" fill="#000" text-anchor="start" textLength="29.8" lengthAdjust="spacingAndGlyphs" stroke="#fff" stroke-width="0.25">S90</text>
<rect x="115.5" y="545.5" width="288.5" height="11.5" fill="url(#cbar)" stroke="#000" stroke-width="1"/>
<text x="115.5" y="578" font-size="15" fill="#000" text-anchor="middle" textLength="9" lengthAdjust="spacingAndGlyphs" stroke="#fff" stroke-width="0.25">0</text>
<text x="163.6" y="578" font-size="15" fill="#000" text-anchor="middle" textLength="9" lengthAdjust="spacingAndGlyphs" stroke="#fff" stroke-width="0.25">5</text>
<text x="211.7" y="578" font-size="15" fill="#000" text-anchor="middle" textLength="17.5" lengthAdjust="spacingAndGlyphs" stroke="#fff" stroke-width="0.25">10</text>
<text x="259.8" y="578" font-size="15" fill="#000" text-anchor="middle" textLength="17.5" lengthAdjust="spacingAndGlyphs" stroke="#fff" stroke-width="0.25">15</text>
<text x="307.8" y="578" font-size="15" fill="#000" text-anchor="middle" textLength="17.5" lengthAdjust="spacingAndGlyphs" stroke="#fff" stroke-width="0.25">20</text>
<text x="355.9" y="578" font-size="15" fill="#000" text-anchor="middle" textLength="17.5" lengthAdjust="spacingAndGlyphs" stroke="#fff" stroke-width="0.25">25</text>
<text x="404.0" y="578" font-size="15" fill="#000" text-anchor="middle" textLength="17.5" lengthAdjust="spacingAndGlyphs" stroke="#fff" stroke-width="0.25">30</text>
<path d="M115.5,557L115.5,561M163.6,557L163.6,561M211.7,557L211.7,561M259.8,557L259.8,561M307.8,557L307.8,561M355.9,557L355.9,561M404.0,557L404.0,561" stroke="#000" stroke-width="1"/>
<text x="502.5" y="558" font-size="16.5" fill="#000" text-anchor="start" textLength="23.75" lengthAdjust="spacingAndGlyphs" stroke="#fff" stroke-width="0.25">IMF</text>
<text x="536.25" y="558" font-size="16.5" fill="#000" text-anchor="start" textLength="55.75" lengthAdjust="spacingAndGlyphs" stroke="#fff" stroke-width="0.25">polarity</text>
<rect x="502.5" y="569.2" width="45" height="12" fill="#0000ff"/>
<rect x="547.5" y="569.2" width="45" height="12" fill="#ff0000"/>
<rect x="502.5" y="569.2" width="90" height="12" fill="none" stroke="#000" stroke-width="1.2"/>
<path d="M482,576L492,576M603,576.5L613,576.5M608,571.5L608,581.5" stroke="#000" stroke-width="1.3"/>
<text x="671" y="558.2" font-size="16.5" fill="#000" text-anchor="start" textLength="56" lengthAdjust="spacingAndGlyphs" stroke="#fff" stroke-width="0.25">Current</text>
<text x="736.6" y="558.2" font-size="16.5" fill="#000" text-anchor="start" textLength="50.9" lengthAdjust="spacingAndGlyphs" stroke="#fff" stroke-width="0.25">sheath</text>
<rect x="682" y="570" width="97" height="5.3" fill="#808080"/>
<rect x="682" y="576.8" width="97" height="4.8" fill="#808080"/>
<text x="849" y="558.2" font-size="16.5" fill="#000" text-anchor="start" textLength="18.8" lengthAdjust="spacingAndGlyphs" stroke="#fff" stroke-width="0.25">3D</text>
<text x="877" y="558.2" font-size="16.5" fill="#000" text-anchor="start" textLength="23.6" lengthAdjust="spacingAndGlyphs" stroke="#fff" stroke-width="0.25">IMF</text>
<text x="910" y="558.2" font-size="16.5" fill="#000" text-anchor="start" textLength="26.6" lengthAdjust="spacingAndGlyphs" stroke="#fff" stroke-width="0.25">line</text>
<rect x="850" y="570" width="87.2" height="11.6" fill="#d0d0d0"/>
<path d="M850.6,576H860M869.4,576H878.8M888,576H897.5M907,576H916M925.6,576H936.6" stroke="#000" stroke-width="2.2"/>
<text x="296.5" y="597" font-size="10.5" fill="#e6e6e6" text-anchor="start" textLength="570.8" lengthAdjust="spacingAndGlyphs">examples/wsafr2.7/256x30x90x1.2116-a3b1f.8-mcp1umn1cd-1.g53q5d2.gong-2011:09:22T17:01:00T00</text>
<text x="884.4" y="597" font-size="10.5" fill="#e6e6e6" text-anchor="start" textLength="69.4" lengthAdjust="spacingAndGlyphs">2011−10−31</text>
<text x="6" y="597" font-size="10.5" fill="#000" text-anchor="start" textLength="52.3" lengthAdjust="spacingAndGlyphs">ENLIL−2.7</text>
<text x="63.3" y="597" font-size="10.5" fill="#000" text-anchor="start" textLength="110.0" lengthAdjust="spacingAndGlyphs">lowres−2116−a3b1f</text>
<text x="176.7" y="597" font-size="10.5" fill="#000" text-anchor="start" textLength="50.0" lengthAdjust="spacingAndGlyphs">WSA_V2.2</text>
<text x="232.7" y="597" font-size="10.5" fill="#000" text-anchor="start" textLength="63.3" lengthAdjust="spacingAndGlyphs">GONG−2116</text>
</svg></body></html>
